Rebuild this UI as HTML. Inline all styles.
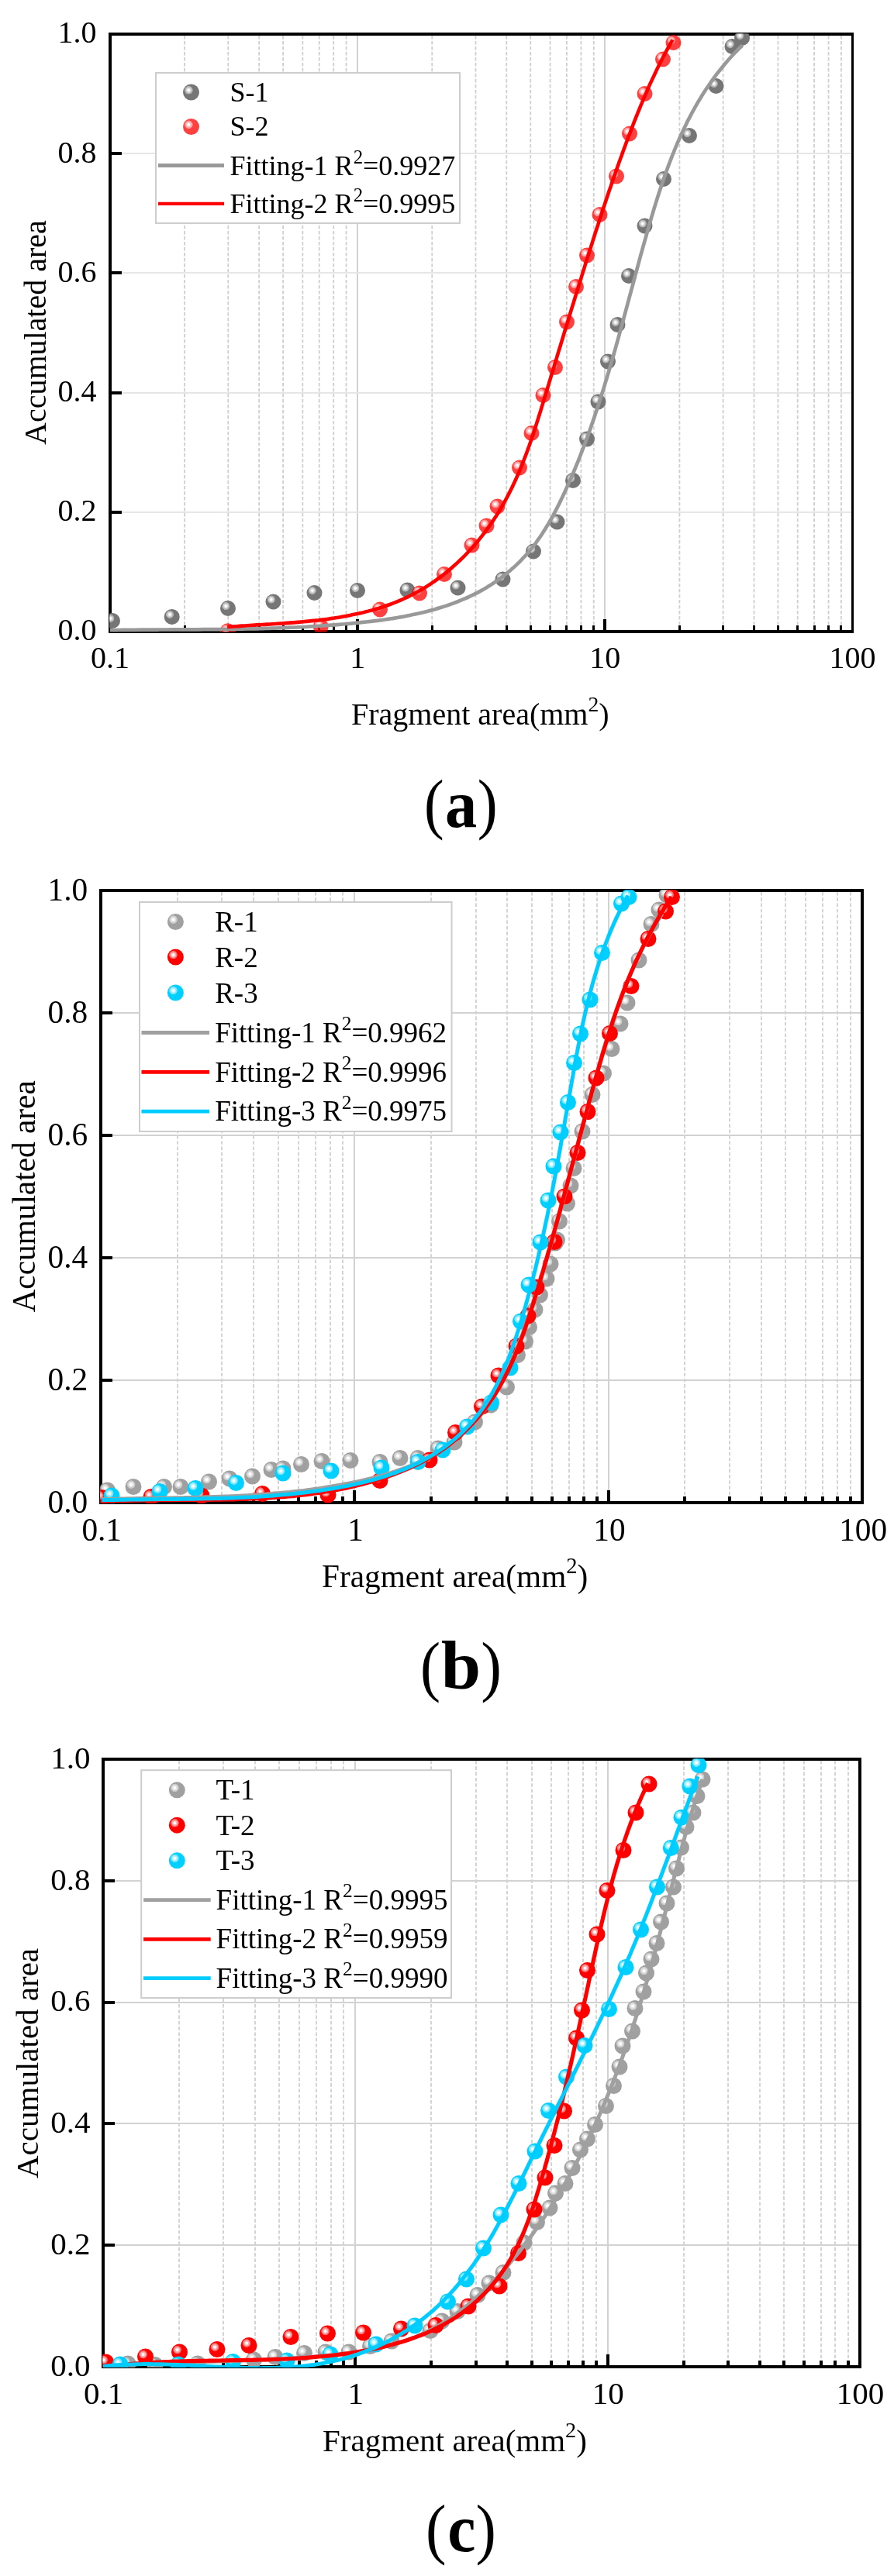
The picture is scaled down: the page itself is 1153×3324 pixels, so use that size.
<!DOCTYPE html>
<html><head><meta charset="utf-8"><title>Accumulated area vs fragment area</title>
<style>html,body{margin:0;padding:0;background:#fff}body{width:1153px;height:3324px;overflow:hidden;font-family:"Liberation Serif",serif}svg text{fill:#000}</style>
</head><body>
<svg width="1153" height="3324" viewBox="0 0 1153 3324" style="display:block;will-change:transform">
<defs>
<radialGradient id="hl" cx="0.5" cy="0.5" r="0.5"><stop offset="0" stop-color="#fff" stop-opacity="1"/><stop offset="0.28" stop-color="#fff" stop-opacity="0.97"/><stop offset="0.42" stop-color="#fff" stop-opacity="0.72"/><stop offset="0.62" stop-color="#fff" stop-opacity="0.66"/><stop offset="0.72" stop-color="#fff" stop-opacity="0.46"/><stop offset="0.93" stop-color="#fff" stop-opacity="0.4"/><stop offset="1" stop-color="#fff" stop-opacity="0.1"/></radialGradient>
<g id="gA"><circle r="10.0" fill="#767676" fill-opacity="1.0"/><circle cx="-2.7" cy="-3.0" r="5.2" fill="url(#hl)"/></g>
<g id="rA"><circle r="10.0" fill="#ff0000" fill-opacity="0.75"/><circle cx="-2.7" cy="-3.0" r="5.2" fill="url(#hl)"/></g>
<g id="gAL"><circle r="10.5" fill="#767676" fill-opacity="1.0"/><circle cx="-3.1" cy="-2.7" r="5.5" fill="url(#hl)"/></g>
<g id="rAL"><circle r="10.5" fill="#ff0000" fill-opacity="0.75"/><circle cx="-3.1" cy="-2.7" r="5.5" fill="url(#hl)"/></g>
<g id="gB"><circle r="10.5" fill="#a0a0a0" fill-opacity="1.0"/><circle cx="-2.9" cy="-2.9" r="5.5" fill="url(#hl)"/></g>
<g id="rB"><circle r="10.5" fill="#ff0000" fill-opacity="1.0"/><circle cx="-2.9" cy="-2.9" r="5.5" fill="url(#hl)"/></g>
<g id="bB"><circle r="10.5" fill="#00d0ff" fill-opacity="1.0"/><circle cx="-2.9" cy="-2.9" r="5.5" fill="url(#hl)"/></g>
</defs>
<rect width="1153" height="3324" fill="#fff"/>
<line x1="238.08" y1="46.0" x2="238.08" y2="813.0" stroke="#cfcfcf" stroke-width="1.8" stroke-dasharray="4.5,2.5" stroke-dashoffset="0"/>
<line x1="294.28" y1="46.0" x2="294.28" y2="813.0" stroke="#cfcfcf" stroke-width="1.8" stroke-dasharray="4.5,2.5" stroke-dashoffset="0"/>
<line x1="334.16" y1="46.0" x2="334.16" y2="813.0" stroke="#cfcfcf" stroke-width="1.8" stroke-dasharray="4.5,2.5" stroke-dashoffset="0"/>
<line x1="365.09" y1="46.0" x2="365.09" y2="813.0" stroke="#cfcfcf" stroke-width="1.8" stroke-dasharray="4.5,2.5" stroke-dashoffset="0"/>
<line x1="390.36" y1="46.0" x2="390.36" y2="813.0" stroke="#cfcfcf" stroke-width="1.8" stroke-dasharray="4.5,2.5" stroke-dashoffset="0"/>
<line x1="411.73" y1="46.0" x2="411.73" y2="813.0" stroke="#cfcfcf" stroke-width="1.8" stroke-dasharray="4.5,2.5" stroke-dashoffset="0"/>
<line x1="430.24" y1="46.0" x2="430.24" y2="813.0" stroke="#cfcfcf" stroke-width="1.8" stroke-dasharray="4.5,2.5" stroke-dashoffset="0"/>
<line x1="446.56" y1="46.0" x2="446.56" y2="813.0" stroke="#cfcfcf" stroke-width="1.8" stroke-dasharray="4.5,2.5" stroke-dashoffset="0"/>
<line x1="557.25" y1="46.0" x2="557.25" y2="813.0" stroke="#cfcfcf" stroke-width="1.8" stroke-dasharray="4.5,2.5" stroke-dashoffset="0"/>
<line x1="613.45" y1="46.0" x2="613.45" y2="813.0" stroke="#cfcfcf" stroke-width="1.8" stroke-dasharray="4.5,2.5" stroke-dashoffset="0"/>
<line x1="653.32" y1="46.0" x2="653.32" y2="813.0" stroke="#cfcfcf" stroke-width="1.8" stroke-dasharray="4.5,2.5" stroke-dashoffset="0"/>
<line x1="684.25" y1="46.0" x2="684.25" y2="813.0" stroke="#cfcfcf" stroke-width="1.8" stroke-dasharray="4.5,2.5" stroke-dashoffset="0"/>
<line x1="709.53" y1="46.0" x2="709.53" y2="813.0" stroke="#cfcfcf" stroke-width="1.8" stroke-dasharray="4.5,2.5" stroke-dashoffset="0"/>
<line x1="730.89" y1="46.0" x2="730.89" y2="813.0" stroke="#cfcfcf" stroke-width="1.8" stroke-dasharray="4.5,2.5" stroke-dashoffset="0"/>
<line x1="749.40" y1="46.0" x2="749.40" y2="813.0" stroke="#cfcfcf" stroke-width="1.8" stroke-dasharray="4.5,2.5" stroke-dashoffset="0"/>
<line x1="765.73" y1="46.0" x2="765.73" y2="813.0" stroke="#cfcfcf" stroke-width="1.8" stroke-dasharray="4.5,2.5" stroke-dashoffset="0"/>
<line x1="876.41" y1="46.0" x2="876.41" y2="813.0" stroke="#cfcfcf" stroke-width="1.8" stroke-dasharray="4.5,2.5" stroke-dashoffset="0"/>
<line x1="932.61" y1="46.0" x2="932.61" y2="813.0" stroke="#cfcfcf" stroke-width="1.8" stroke-dasharray="4.5,2.5" stroke-dashoffset="0"/>
<line x1="972.49" y1="46.0" x2="972.49" y2="813.0" stroke="#cfcfcf" stroke-width="1.8" stroke-dasharray="4.5,2.5" stroke-dashoffset="0"/>
<line x1="1003.42" y1="46.0" x2="1003.42" y2="813.0" stroke="#cfcfcf" stroke-width="1.8" stroke-dasharray="4.5,2.5" stroke-dashoffset="0"/>
<line x1="1028.69" y1="46.0" x2="1028.69" y2="813.0" stroke="#cfcfcf" stroke-width="1.8" stroke-dasharray="4.5,2.5" stroke-dashoffset="0"/>
<line x1="1050.06" y1="46.0" x2="1050.06" y2="813.0" stroke="#cfcfcf" stroke-width="1.8" stroke-dasharray="4.5,2.5" stroke-dashoffset="0"/>
<line x1="1068.57" y1="46.0" x2="1068.57" y2="813.0" stroke="#cfcfcf" stroke-width="1.8" stroke-dasharray="4.5,2.5" stroke-dashoffset="0"/>
<line x1="1084.90" y1="46.0" x2="1084.90" y2="813.0" stroke="#cfcfcf" stroke-width="1.8" stroke-dasharray="4.5,2.5" stroke-dashoffset="0"/>
<line x1="461.00" y1="46.0" x2="461.00" y2="813.0" stroke="#d2d2d2" stroke-width="2"/>
<line x1="780.00" y1="46.0" x2="780.00" y2="813.0" stroke="#d2d2d2" stroke-width="2"/>
<line x1="144.0" y1="661.00" x2="1098.0" y2="661.00" stroke="#e6e6e6" stroke-width="2"/>
<line x1="144.0" y1="507.00" x2="1098.0" y2="507.00" stroke="#e6e6e6" stroke-width="2"/>
<line x1="144.0" y1="352.00" x2="1098.0" y2="352.00" stroke="#e6e6e6" stroke-width="2"/>
<line x1="144.0" y1="198.00" x2="1098.0" y2="198.00" stroke="#e6e6e6" stroke-width="2"/>
<g fill="#000"><rect x="140.0" y="42.0" width="4" height="775.0"/><rect x="1098.0" y="42.0" width="3" height="775.0"/><rect x="140.0" y="42.0" width="961.0" height="4"/><rect x="140.0" y="813.0" width="961.0" height="4"/>
<rect x="144.0" y="659.00" width="13" height="4"/>
<rect x="144.0" y="505.00" width="13" height="4"/>
<rect x="144.0" y="350.00" width="13" height="4"/>
<rect x="144.0" y="196.00" width="13" height="4"/>
<rect x="459.00" y="799.0" width="4" height="14"/>
<rect x="778.00" y="799.0" width="4" height="14"/>
<rect x="237.00" y="807.0" width="3" height="6"/>
<rect x="293.00" y="807.0" width="3" height="6"/>
<rect x="333.00" y="807.0" width="3" height="6"/>
<rect x="364.00" y="807.0" width="3" height="6"/>
<rect x="389.00" y="807.0" width="3" height="6"/>
<rect x="410.00" y="807.0" width="3" height="6"/>
<rect x="429.00" y="807.0" width="3" height="6"/>
<rect x="445.00" y="807.0" width="3" height="6"/>
<rect x="556.00" y="807.0" width="3" height="6"/>
<rect x="612.00" y="807.0" width="3" height="6"/>
<rect x="652.00" y="807.0" width="3" height="6"/>
<rect x="683.00" y="807.0" width="3" height="6"/>
<rect x="708.00" y="807.0" width="3" height="6"/>
<rect x="729.00" y="807.0" width="3" height="6"/>
<rect x="748.00" y="807.0" width="3" height="6"/>
<rect x="764.00" y="807.0" width="3" height="6"/>
<rect x="875.00" y="807.0" width="3" height="6"/>
<rect x="931.00" y="807.0" width="3" height="6"/>
<rect x="971.00" y="807.0" width="3" height="6"/>
<rect x="1002.00" y="807.0" width="3" height="6"/>
<rect x="1027.00" y="807.0" width="3" height="6"/>
<rect x="1049.00" y="807.0" width="3" height="6"/>
<rect x="1067.00" y="807.0" width="3" height="6"/>
<rect x="1083.00" y="807.0" width="3" height="6"/>
</g>
<text x="124.5" y="826.3" font-family="Liberation Serif, serif" font-size="40" text-anchor="end">0.0</text>
<text x="124.5" y="672.1" font-family="Liberation Serif, serif" font-size="40" text-anchor="end">0.2</text>
<text x="124.5" y="517.9" font-family="Liberation Serif, serif" font-size="40" text-anchor="end">0.4</text>
<text x="124.5" y="363.7" font-family="Liberation Serif, serif" font-size="40" text-anchor="end">0.6</text>
<text x="124.5" y="209.5" font-family="Liberation Serif, serif" font-size="40" text-anchor="end">0.8</text>
<text x="124.5" y="55.3" font-family="Liberation Serif, serif" font-size="40" text-anchor="end">1.0</text>
<text x="142.0" y="861.5" font-family="Liberation Serif, serif" font-size="40" text-anchor="middle">0.1</text>
<text x="461.2" y="861.5" font-family="Liberation Serif, serif" font-size="40" text-anchor="middle">1</text>
<text x="780.3" y="861.5" font-family="Liberation Serif, serif" font-size="40" text-anchor="middle">10</text>
<text x="1099.5" y="861.5" font-family="Liberation Serif, serif" font-size="40" text-anchor="middle">100</text>
<text x="453" y="935" font-family="Liberation Serif, serif" font-size="40">Fragment area(mm<tspan font-size="27.6" dy="-16.8">2</tspan><tspan dy="16.8">)</tspan></text>
<text transform="translate(59,574) rotate(-90)" font-family="Liberation Serif, serif" font-size="40">Accumulated area</text>
<clipPath id="clipa"><rect x="141.2" y="43.2" width="959.1" height="772.6"/></clipPath>
<g clip-path="url(#clipa)">
<use href="#gA" x="145" y="801"/>
<use href="#gA" x="221.7" y="795.9"/>
<use href="#gA" x="294" y="785"/>
<use href="#gA" x="352.5" y="776.5"/>
<use href="#gA" x="405.5" y="765"/>
<use href="#gA" x="461" y="762"/>
<use href="#gA" x="525.5" y="761.5"/>
<use href="#gA" x="590.5" y="758.5"/>
<use href="#gA" x="648.5" y="747.5"/>
<use href="#gA" x="688" y="711.5"/>
<use href="#gA" x="718.5" y="673.5"/>
<use href="#gA" x="739" y="620"/>
<use href="#gA" x="757" y="566.5"/>
<use href="#gA" x="771.5" y="518.5"/>
<use href="#gA" x="784" y="466.5"/>
<use href="#gA" x="796.5" y="419"/>
<use href="#gA" x="811" y="356"/>
<use href="#gA" x="831.5" y="291.5"/>
<use href="#gA" x="856" y="231"/>
<use href="#gA" x="889" y="175"/>
<use href="#gA" x="923.5" y="111"/>
<use href="#gA" x="944.5" y="60"/>
<use href="#gA" x="957" y="49"/>
<use href="#rA" x="293.8" y="814.2"/>
<use href="#rA" x="413.7" y="808.3"/>
<use href="#rA" x="490" y="786.5"/>
<use href="#rA" x="541" y="765.5"/>
<use href="#rA" x="573" y="741"/>
<use href="#rA" x="608.5" y="703.5"/>
<use href="#rA" x="627.5" y="678.5"/>
<use href="#rA" x="641.5" y="653.5"/>
<use href="#rA" x="670" y="603.5"/>
<use href="#rA" x="685.5" y="559"/>
<use href="#rA" x="700.5" y="510"/>
<use href="#rA" x="716" y="474"/>
<use href="#rA" x="731" y="415.5"/>
<use href="#rA" x="743" y="370"/>
<use href="#rA" x="757" y="329.5"/>
<use href="#rA" x="773.5" y="277"/>
<use href="#rA" x="795" y="227.5"/>
<use href="#rA" x="812" y="172.5"/>
<use href="#rA" x="831.5" y="121"/>
<use href="#rA" x="855" y="76.5"/>
<use href="#rA" x="868.5" y="55"/>
<path d="M141.9,813.2 C143.3,813.2 147.3,813.1 150.1,813.1 C152.8,813.0 155.5,813.0 158.2,812.9 C160.9,812.9 163.6,812.9 166.3,812.8 C169.0,812.8 171.7,812.8 174.4,812.8 C177.1,812.7 179.8,812.7 182.5,812.7 C185.2,812.7 187.9,812.6 190.6,812.6 C193.3,812.6 196.0,812.6 198.7,812.6 C201.4,812.6 204.1,812.5 206.8,812.5 C209.5,812.5 212.2,812.5 214.9,812.5 C217.5,812.5 220.2,812.5 222.9,812.4 C225.6,812.4 228.3,812.4 231.0,812.4 C233.6,812.4 236.3,812.4 239.0,812.4 C241.7,812.3 244.4,812.3 247.0,812.3 C249.7,812.3 252.4,812.3 255.1,812.3 C257.7,812.2 260.4,812.2 263.1,812.2 C265.8,812.2 268.4,812.2 271.1,812.1 C273.8,812.1 276.5,812.1 279.1,812.1 C281.8,812.1 284.5,812.0 287.2,812.0 C289.8,812.0 292.5,811.9 295.2,811.9 C297.8,811.9 300.5,811.8 303.2,811.8 C305.9,811.7 308.5,811.7 311.2,811.6 C313.9,811.6 316.5,811.6 319.2,811.5 C321.9,811.4 324.5,811.4 327.2,811.3 C329.9,811.3 332.6,811.2 335.2,811.1 C337.9,811.1 340.6,811.0 343.2,810.9 C345.9,810.8 348.6,810.8 351.2,810.7 C353.9,810.6 356.6,810.5 359.3,810.4 C361.9,810.3 364.6,810.2 367.3,810.1 C370.0,810.0 372.6,809.9 375.3,809.7 C378.0,809.6 380.7,809.5 383.3,809.4 C386.0,809.2 388.7,809.1 391.4,809.0 C394.0,808.8 396.7,808.7 399.4,808.5 C402.1,808.4 404.8,808.2 407.4,808.0 C410.1,807.9 412.8,807.7 415.5,807.5 C418.2,807.3 420.9,807.1 423.5,806.9 C426.2,806.7 428.9,806.5 431.6,806.3 C434.3,806.1 437.0,805.9 439.7,805.7 C442.4,805.4 445.1,805.2 447.8,805.0 C450.5,804.7 453.1,804.5 455.8,804.2 C458.5,803.9 461.2,803.7 463.9,803.4 C466.6,803.1 469.4,802.8 472.1,802.5 C474.8,802.2 477.5,801.9 480.2,801.6 C482.9,801.3 485.6,800.9 488.3,800.6 C491.0,800.2 493.7,799.9 496.4,799.5 C499.1,799.1 501.8,798.7 504.5,798.3 C507.2,797.9 509.9,797.4 512.5,797.0 C515.2,796.5 517.9,796.0 520.6,795.6 C523.3,795.1 525.9,794.5 528.6,794.0 C531.3,793.5 533.9,792.9 536.6,792.3 C539.2,791.8 541.9,791.1 544.5,790.5 C547.2,789.9 549.8,789.2 552.4,788.5 C555.1,787.9 557.7,787.1 560.3,786.4 C562.9,785.7 565.5,784.9 568.1,784.1 C570.7,783.3 573.3,782.5 575.8,781.6 C578.4,780.7 580.9,779.8 583.5,778.9 C586.0,778.0 588.5,777.0 591.0,776.0 C593.5,775.0 596.0,774.0 598.5,772.9 C600.9,771.9 603.4,770.8 605.8,769.6 C608.2,768.5 610.6,767.3 613.0,766.1 C615.4,764.9 617.7,763.7 620.1,762.4 C622.4,761.1 624.7,759.8 627.0,758.4 C629.3,757.0 631.5,755.6 633.8,754.2 C636.0,752.8 638.2,751.3 640.4,749.8 C642.5,748.2 644.7,746.7 646.8,745.1 C648.9,743.5 651.0,741.9 653.0,740.2 C655.1,738.6 657.1,736.9 659.1,735.2 C661.1,733.4 663.1,731.7 665.0,729.9 C666.9,728.0 668.8,726.2 670.7,724.3 C672.5,722.5 674.4,720.6 676.1,718.6 C677.9,716.7 679.7,714.7 681.4,712.7 C683.1,710.7 684.8,708.6 686.4,706.6 C688.1,704.5 689.7,702.4 691.3,700.3 C692.8,698.1 694.4,695.9 695.9,693.8 C697.4,691.6 698.9,689.4 700.3,687.1 C701.8,684.9 703.2,682.6 704.6,680.3 C706.0,678.0 707.4,675.7 708.7,673.4 C710.0,671.1 711.4,668.7 712.7,666.4 C714.0,664.0 715.2,661.6 716.5,659.2 C717.7,656.8 719.0,654.4 720.2,652.0 C721.4,649.6 722.6,647.2 723.7,644.7 C724.9,642.3 726.1,639.9 727.2,637.4 C728.4,635.0 729.5,632.5 730.6,630.0 C731.7,627.6 732.8,625.1 733.9,622.6 C735.0,620.2 736.1,617.7 737.2,615.2 C738.2,612.8 739.3,610.3 740.3,607.8 C741.4,605.3 742.4,602.8 743.4,600.3 C744.5,597.8 745.5,595.3 746.5,592.8 C747.5,590.3 748.5,587.8 749.4,585.3 C750.4,582.8 751.4,580.3 752.3,577.8 C753.3,575.3 754.2,572.8 755.2,570.3 C756.1,567.8 757.0,565.2 758.0,562.7 C758.9,560.2 759.8,557.7 760.7,555.1 C761.6,552.6 762.5,550.1 763.3,547.5 C764.2,545.0 765.1,542.5 766.0,539.9 C766.8,537.4 767.7,534.8 768.5,532.3 C769.4,529.8 770.2,527.2 771.1,524.7 C771.9,522.1 772.7,519.6 773.5,517.0 C774.4,514.4 775.2,511.9 776.0,509.3 C776.8,506.8 777.6,504.2 778.4,501.6 C779.2,499.1 780.0,496.5 780.7,493.9 C781.5,491.4 782.3,488.8 783.1,486.2 C783.8,483.7 784.6,481.1 785.4,478.5 C786.1,475.9 786.9,473.4 787.6,470.8 C788.4,468.2 789.1,465.6 789.9,463.0 C790.6,460.5 791.4,457.9 792.1,455.3 C792.8,452.7 793.6,450.1 794.3,447.5 C795.0,444.9 795.7,442.3 796.5,439.8 C797.2,437.2 797.9,434.6 798.6,432.0 C799.3,429.4 800.0,426.8 800.7,424.2 C801.5,421.6 802.2,419.0 802.9,416.4 C803.6,413.8 804.3,411.2 805.0,408.6 C805.7,406.0 806.4,403.4 807.1,400.8 C807.8,398.2 808.5,395.6 809.2,393.0 C809.9,390.4 810.6,387.8 811.3,385.2 C812.0,382.6 812.7,380.0 813.4,377.4 C814.1,374.8 814.8,372.2 815.5,369.6 C816.2,367.0 816.9,364.4 817.6,361.8 C818.3,359.2 819.0,356.6 819.7,353.9 C820.4,351.3 821.1,348.7 821.8,346.1 C822.5,343.5 823.2,340.9 823.9,338.3 C824.6,335.7 825.3,333.1 826.0,330.5 C826.8,327.9 827.5,325.3 828.2,322.7 C828.9,320.1 829.6,317.5 830.4,314.9 C831.1,312.3 831.8,309.7 832.6,307.1 C833.3,304.5 834.0,301.9 834.8,299.3 C835.5,296.7 836.2,294.1 837.0,291.5 C837.7,288.9 838.5,286.3 839.3,283.7 C840.0,281.1 840.8,278.5 841.6,275.9 C842.3,273.3 843.1,270.7 843.9,268.1 C844.7,265.6 845.5,263.0 846.3,260.4 C847.1,257.8 847.9,255.2 848.7,252.7 C849.6,250.1 850.4,247.5 851.2,245.0 C852.1,242.4 852.9,239.9 853.8,237.3 C854.6,234.8 855.5,232.2 856.4,229.7 C857.3,227.1 858.2,224.6 859.1,222.1 C860.0,219.5 860.9,217.0 861.8,214.5 C862.8,212.0 863.7,209.5 864.7,207.0 C865.6,204.4 866.6,202.0 867.6,199.5 C868.6,197.0 869.6,194.5 870.6,192.0 C871.6,189.6 872.7,187.1 873.7,184.6 C874.8,182.2 875.9,179.7 876.9,177.3 C878.0,174.9 879.1,172.4 880.3,170.0 C881.4,167.6 882.5,165.2 883.7,162.8 C884.9,160.4 886.0,158.0 887.2,155.7 C888.4,153.3 889.7,150.9 890.9,148.6 C892.1,146.2 893.4,143.9 894.7,141.6 C896.0,139.2 897.3,136.9 898.6,134.6 C899.9,132.3 901.3,130.0 902.7,127.8 C904.0,125.5 905.4,123.2 906.8,121.0 C908.3,118.7 909.7,116.5 911.2,114.3 C912.7,112.1 914.2,109.9 915.7,107.7 C917.2,105.5 918.7,103.3 920.3,101.1 C921.9,99.0 923.5,96.8 925.1,94.7 C926.7,92.6 928.4,90.5 930.1,88.4 C931.8,86.3 933.5,84.2 935.2,82.2 C937.0,80.1 938.7,78.0 940.5,76.0 C942.3,74.0 944.2,72.0 946.0,70.0 C947.9,68.0 949.8,66.0 951.7,64.1 C953.6,62.1 956.6,59.3 957.6,58.3" fill="none" stroke="#999999" stroke-width="4.7" stroke-linejoin="round"/>
<path d="M293.2,809.0 C294.3,809.0 297.4,808.7 299.4,808.5 C301.5,808.4 303.6,808.2 305.7,808.1 C307.8,807.9 309.9,807.8 312.0,807.6 C314.2,807.5 316.3,807.4 318.4,807.2 C320.6,807.1 322.7,807.0 324.9,806.8 C327.0,806.7 329.2,806.6 331.3,806.4 C333.5,806.3 335.7,806.2 337.9,806.0 C340.1,805.9 342.2,805.8 344.4,805.6 C346.6,805.5 348.8,805.4 351.0,805.2 C353.2,805.1 355.5,805.0 357.7,804.8 C359.9,804.7 362.1,804.5 364.3,804.4 C366.5,804.2 368.8,804.1 371.0,803.9 C373.2,803.7 375.5,803.6 377.7,803.4 C379.9,803.2 382.2,803.1 384.4,802.9 C386.7,802.7 388.9,802.5 391.1,802.3 C393.4,802.1 395.6,801.9 397.9,801.6 C400.1,801.4 402.3,801.2 404.6,800.9 C406.8,800.7 409.1,800.4 411.3,800.2 C413.6,799.9 415.8,799.6 418.0,799.4 C420.3,799.1 422.5,798.8 424.8,798.4 C427.0,798.1 429.2,797.8 431.4,797.5 C433.7,797.1 435.9,796.8 438.1,796.4 C440.3,796.0 442.6,795.6 444.8,795.2 C447.0,794.8 449.2,794.4 451.4,794.0 C453.6,793.6 455.8,793.1 458.0,792.6 C460.2,792.2 462.4,791.7 464.5,791.2 C466.7,790.7 468.9,790.2 471.0,789.6 C473.2,789.1 475.4,788.5 477.5,787.9 C479.6,787.4 481.8,786.8 483.9,786.1 C486.0,785.5 488.2,784.9 490.3,784.2 C492.4,783.5 494.5,782.9 496.5,782.2 C498.6,781.4 500.7,780.7 502.8,780.0 C504.8,779.2 506.9,778.4 508.9,777.6 C511.0,776.8 513.0,776.0 515.0,775.2 C517.0,774.3 519.0,773.4 521.0,772.5 C523.0,771.6 524.9,770.7 526.9,769.8 C528.8,768.8 530.8,767.8 532.7,766.8 C534.6,765.8 536.5,764.8 538.4,763.8 C540.3,762.7 542.2,761.6 544.1,760.5 C546.0,759.4 547.8,758.3 549.6,757.2 C551.5,756.0 553.3,754.8 555.1,753.6 C556.9,752.5 558.7,751.2 560.5,750.0 C562.2,748.8 564.0,747.5 565.7,746.2 C567.5,744.9 569.2,743.6 570.9,742.3 C572.6,741.0 574.3,739.6 576.0,738.3 C577.7,736.9 579.4,735.5 581.0,734.1 C582.7,732.7 584.3,731.3 585.9,729.8 C587.5,728.4 589.1,726.9 590.7,725.4 C592.3,723.9 593.9,722.4 595.4,720.9 C597.0,719.4 598.5,717.8 600.0,716.3 C601.6,714.7 603.1,713.1 604.6,711.5 C606.0,709.9 607.5,708.3 609.0,706.7 C610.4,705.1 611.9,703.4 613.3,701.7 C614.7,700.1 616.1,698.4 617.5,696.7 C618.9,695.0 620.2,693.3 621.6,691.6 C623.0,689.9 624.3,688.1 625.6,686.4 C626.9,684.6 628.2,682.8 629.5,681.1 C630.8,679.3 632.1,677.5 633.3,675.7 C634.6,673.9 635.8,672.1 637.0,670.2 C638.2,668.4 639.4,666.5 640.6,664.7 C641.8,662.8 642.9,660.9 644.1,659.1 C645.2,657.2 646.4,655.3 647.5,653.4 C648.6,651.5 649.7,649.6 650.7,647.6 C651.8,645.7 652.9,643.8 653.9,641.8 C654.9,639.9 655.9,637.9 656.9,635.9 C657.9,634.0 658.9,632.0 659.9,630.0 C660.9,628.0 661.8,626.0 662.7,624.0 C663.7,622.0 664.6,620.0 665.5,618.0 C666.4,616.0 667.3,614.0 668.2,611.9 C669.1,609.9 669.9,607.9 670.8,605.8 C671.6,603.8 672.5,601.7 673.3,599.7 C674.1,597.6 674.9,595.5 675.7,593.5 C676.5,591.4 677.3,589.3 678.1,587.2 C678.9,585.2 679.6,583.1 680.4,581.0 C681.2,578.9 681.9,576.8 682.7,574.7 C683.4,572.6 684.1,570.5 684.9,568.4 C685.6,566.3 686.3,564.2 687.0,562.1 C687.7,559.9 688.4,557.8 689.1,555.7 C689.8,553.6 690.5,551.5 691.2,549.3 C691.9,547.2 692.5,545.1 693.2,543.0 C693.9,540.8 694.5,538.7 695.2,536.6 C695.9,534.5 696.5,532.3 697.2,530.2 C697.8,528.1 698.5,525.9 699.1,523.8 C699.8,521.7 700.4,519.6 701.1,517.4 C701.7,515.3 702.4,513.2 703.0,511.0 C703.7,508.9 704.3,506.8 705.0,504.7 C705.6,502.5 706.3,500.4 706.9,498.3 C707.5,496.2 708.2,494.1 708.8,491.9 C709.5,489.8 710.1,487.7 710.7,485.6 C711.4,483.5 712.0,481.4 712.7,479.2 C713.3,477.1 713.9,475.0 714.6,472.9 C715.2,470.8 715.9,468.7 716.5,466.6 C717.1,464.5 717.8,462.4 718.4,460.3 C719.1,458.1 719.7,456.0 720.3,453.9 C721.0,451.8 721.6,449.7 722.3,447.6 C722.9,445.5 723.5,443.4 724.2,441.3 C724.8,439.2 725.5,437.1 726.1,435.0 C726.7,432.9 727.4,430.8 728.0,428.7 C728.6,426.6 729.3,424.5 729.9,422.4 C730.6,420.3 731.2,418.2 731.8,416.1 C732.5,414.0 733.1,411.9 733.8,409.8 C734.4,407.7 735.1,405.6 735.7,403.5 C736.3,401.4 737.0,399.3 737.6,397.2 C738.3,395.1 738.9,393.0 739.6,390.9 C740.2,388.8 740.8,386.7 741.5,384.6 C742.1,382.5 742.8,380.4 743.4,378.3 C744.1,376.2 744.7,374.1 745.4,372.0 C746.0,369.9 746.7,367.8 747.3,365.8 C748.0,363.7 748.6,361.6 749.3,359.5 C749.9,357.4 750.6,355.3 751.2,353.2 C751.9,351.1 752.5,349.0 753.2,346.9 C753.8,344.8 754.5,342.7 755.1,340.6 C755.8,338.5 756.5,336.4 757.1,334.3 C757.8,332.2 758.4,330.1 759.1,328.0 C759.8,325.9 760.4,323.8 761.1,321.7 C761.7,319.6 762.4,317.5 763.1,315.4 C763.7,313.3 764.4,311.2 765.1,309.1 C765.8,307.0 766.4,304.9 767.1,302.8 C767.8,300.7 768.4,298.6 769.1,296.5 C769.8,294.4 770.5,292.3 771.2,290.2 C771.8,288.1 772.5,286.0 773.2,283.9 C773.9,281.8 774.6,279.7 775.3,277.6 C776.0,275.5 776.6,273.4 777.3,271.3 C778.0,269.2 778.7,267.1 779.4,265.0 C780.1,262.9 780.8,260.8 781.5,258.7 C782.2,256.6 782.9,254.5 783.6,252.4 C784.3,250.3 785.0,248.2 785.7,246.1 C786.5,244.0 787.2,241.9 787.9,239.9 C788.6,237.8 789.3,235.7 790.0,233.6 C790.8,231.5 791.5,229.4 792.2,227.3 C792.9,225.2 793.7,223.2 794.4,221.1 C795.1,219.0 795.9,216.9 796.6,214.8 C797.3,212.7 798.1,210.7 798.8,208.6 C799.6,206.5 800.3,204.4 801.1,202.3 C801.8,200.3 802.6,198.2 803.3,196.1 C804.1,194.0 804.8,192.0 805.6,189.9 C806.4,187.8 807.1,185.7 807.9,183.7 C808.7,181.6 809.4,179.5 810.2,177.5 C811.0,175.4 811.8,173.3 812.6,171.3 C813.4,169.2 814.1,167.2 814.9,165.1 C815.7,163.0 816.5,161.0 817.3,158.9 C818.1,156.9 818.9,154.8 819.7,152.8 C820.5,150.7 821.4,148.7 822.2,146.6 C823.0,144.6 823.8,142.5 824.7,140.5 C825.5,138.5 826.3,136.4 827.2,134.4 C828.0,132.4 828.9,130.3 829.7,128.3 C830.6,126.3 831.5,124.2 832.3,122.2 C833.2,120.2 834.1,118.2 835.0,116.2 C835.8,114.2 836.7,112.2 837.6,110.1 C838.5,108.1 839.5,106.1 840.4,104.1 C841.3,102.1 842.2,100.1 843.2,98.2 C844.1,96.2 845.0,94.2 846.0,92.2 C846.9,90.2 847.9,88.2 848.9,86.3 C849.8,84.3 850.8,82.3 851.8,80.4 C852.8,78.4 853.8,76.5 854.8,74.5 C855.8,72.5 856.9,70.6 857.9,68.7 C858.9,66.7 860.0,64.8 861.0,62.9 C862.1,60.9 863.2,59.0 864.2,57.1 C865.3,55.2 867.0,52.3 867.5,51.3" fill="none" stroke="#ff0000" stroke-width="4.6" stroke-linejoin="round"/>
</g>
<rect x="201" y="94" width="392" height="194" fill="#fff" stroke="#cdcdcd" stroke-width="2"/>
<use href="#gAL" x="246.5" y="119"/>
<text x="296.6" y="130.7" font-family="Liberation Serif, serif" font-size="36">S-1</text>
<use href="#rAL" x="246.5" y="163.5"/>
<text x="296.6" y="175.2" font-family="Liberation Serif, serif" font-size="36">S-2</text>
<line x1="204" y1="213.5" x2="289" y2="213.5" stroke="#999999" stroke-width="4.9"/>
<text x="296.6" y="226" font-family="Liberation Serif, serif" font-size="36">Fitting-1 R<tspan font-size="24.8" dy="-15.1">2</tspan><tspan dy="15.1">=0.9927</tspan></text>
<line x1="204" y1="262.9" x2="289" y2="262.9" stroke="#ff0000" stroke-width="4.2"/>
<text x="296.6" y="275.2" font-family="Liberation Serif, serif" font-size="36">Fitting-2 R<tspan font-size="24.8" dy="-15.1">2</tspan><tspan dy="15.1">=0.9995</tspan></text>
<text transform="translate(547.11,1066.48) scale(0.7704,0.8600)" font-family="Liberation Serif, serif" font-size="100">(</text>
<text transform="translate(574.07,1066.62) scale(0.8234,0.8831)" font-family="Liberation Serif, serif" font-size="100" font-weight="bold">a</text>
<text transform="translate(615.81,1066.48) scale(0.7782,0.8600)" font-family="Liberation Serif, serif" font-size="100">)</text>
<line x1="229.00" y1="1151.0" x2="229.00" y2="1937.0" stroke="#d4d4d4" stroke-width="2" stroke-dasharray="4.6,2.7" stroke-dashoffset="0"/>
<line x1="286.00" y1="1151.0" x2="286.00" y2="1937.0" stroke="#d4d4d4" stroke-width="2" stroke-dasharray="4.6,2.7" stroke-dashoffset="0"/>
<line x1="327.00" y1="1151.0" x2="327.00" y2="1937.0" stroke="#d4d4d4" stroke-width="2" stroke-dasharray="4.6,2.7" stroke-dashoffset="0"/>
<line x1="359.00" y1="1151.0" x2="359.00" y2="1937.0" stroke="#d4d4d4" stroke-width="2" stroke-dasharray="4.6,2.7" stroke-dashoffset="0"/>
<line x1="385.00" y1="1151.0" x2="385.00" y2="1937.0" stroke="#d4d4d4" stroke-width="2" stroke-dasharray="4.6,2.7" stroke-dashoffset="0"/>
<line x1="407.00" y1="1151.0" x2="407.00" y2="1937.0" stroke="#d4d4d4" stroke-width="2" stroke-dasharray="4.6,2.7" stroke-dashoffset="0"/>
<line x1="426.00" y1="1151.0" x2="426.00" y2="1937.0" stroke="#d4d4d4" stroke-width="2" stroke-dasharray="4.6,2.7" stroke-dashoffset="0"/>
<line x1="442.00" y1="1151.0" x2="442.00" y2="1937.0" stroke="#d4d4d4" stroke-width="2" stroke-dasharray="4.6,2.7" stroke-dashoffset="0"/>
<line x1="556.00" y1="1151.0" x2="556.00" y2="1937.0" stroke="#d4d4d4" stroke-width="2" stroke-dasharray="4.6,2.7" stroke-dashoffset="0"/>
<line x1="614.00" y1="1151.0" x2="614.00" y2="1937.0" stroke="#d4d4d4" stroke-width="2" stroke-dasharray="4.6,2.7" stroke-dashoffset="0"/>
<line x1="654.00" y1="1151.0" x2="654.00" y2="1937.0" stroke="#d4d4d4" stroke-width="2" stroke-dasharray="4.6,2.7" stroke-dashoffset="0"/>
<line x1="686.00" y1="1151.0" x2="686.00" y2="1937.0" stroke="#d4d4d4" stroke-width="2" stroke-dasharray="4.6,2.7" stroke-dashoffset="0"/>
<line x1="712.00" y1="1151.0" x2="712.00" y2="1937.0" stroke="#d4d4d4" stroke-width="2" stroke-dasharray="4.6,2.7" stroke-dashoffset="0"/>
<line x1="734.00" y1="1151.0" x2="734.00" y2="1937.0" stroke="#d4d4d4" stroke-width="2" stroke-dasharray="4.6,2.7" stroke-dashoffset="0"/>
<line x1="753.00" y1="1151.0" x2="753.00" y2="1937.0" stroke="#d4d4d4" stroke-width="2" stroke-dasharray="4.6,2.7" stroke-dashoffset="0"/>
<line x1="770.00" y1="1151.0" x2="770.00" y2="1937.0" stroke="#d4d4d4" stroke-width="2" stroke-dasharray="4.6,2.7" stroke-dashoffset="0"/>
<line x1="883.00" y1="1151.0" x2="883.00" y2="1937.0" stroke="#d4d4d4" stroke-width="2" stroke-dasharray="4.6,2.7" stroke-dashoffset="0"/>
<line x1="941.00" y1="1151.0" x2="941.00" y2="1937.0" stroke="#d4d4d4" stroke-width="2" stroke-dasharray="4.6,2.7" stroke-dashoffset="0"/>
<line x1="982.00" y1="1151.0" x2="982.00" y2="1937.0" stroke="#d4d4d4" stroke-width="2" stroke-dasharray="4.6,2.7" stroke-dashoffset="0"/>
<line x1="1013.00" y1="1151.0" x2="1013.00" y2="1937.0" stroke="#d4d4d4" stroke-width="2" stroke-dasharray="4.6,2.7" stroke-dashoffset="0"/>
<line x1="1039.00" y1="1151.0" x2="1039.00" y2="1937.0" stroke="#d4d4d4" stroke-width="2" stroke-dasharray="4.6,2.7" stroke-dashoffset="0"/>
<line x1="1061.00" y1="1151.0" x2="1061.00" y2="1937.0" stroke="#d4d4d4" stroke-width="2" stroke-dasharray="4.6,2.7" stroke-dashoffset="0"/>
<line x1="1080.00" y1="1151.0" x2="1080.00" y2="1937.0" stroke="#d4d4d4" stroke-width="2" stroke-dasharray="4.6,2.7" stroke-dashoffset="0"/>
<line x1="1097.00" y1="1151.0" x2="1097.00" y2="1937.0" stroke="#d4d4d4" stroke-width="2" stroke-dasharray="4.6,2.7" stroke-dashoffset="0"/>
<line x1="457.00" y1="1151.0" x2="457.00" y2="1937.0" stroke="#d2d2d2" stroke-width="2"/>
<line x1="785.00" y1="1151.0" x2="785.00" y2="1937.0" stroke="#d2d2d2" stroke-width="2"/>
<line x1="132.0" y1="1781.00" x2="1110.0" y2="1781.00" stroke="#d2d2d2" stroke-width="2"/>
<line x1="132.0" y1="1623.00" x2="1110.0" y2="1623.00" stroke="#d2d2d2" stroke-width="2"/>
<line x1="132.0" y1="1465.00" x2="1110.0" y2="1465.00" stroke="#d2d2d2" stroke-width="2"/>
<line x1="132.0" y1="1307.00" x2="1110.0" y2="1307.00" stroke="#d2d2d2" stroke-width="2"/>
<g fill="#000"><rect x="128.0" y="1147.0" width="4" height="794.0"/><rect x="1110.0" y="1147.0" width="4" height="794.0"/><rect x="128.0" y="1147.0" width="986.0" height="4"/><rect x="128.0" y="1937.0" width="986.0" height="4"/>
<rect x="132.0" y="1779.00" width="13" height="4"/>
<rect x="132.0" y="1621.00" width="13" height="4"/>
<rect x="132.0" y="1463.00" width="13" height="4"/>
<rect x="132.0" y="1305.00" width="13" height="4"/>
<rect x="455.00" y="1923.0" width="4" height="14"/>
<rect x="783.00" y="1923.0" width="4" height="14"/>
<rect x="227.00" y="1931.0" width="4" height="6"/>
<rect x="284.00" y="1931.0" width="4" height="6"/>
<rect x="325.00" y="1931.0" width="4" height="6"/>
<rect x="357.00" y="1931.0" width="4" height="6"/>
<rect x="383.00" y="1931.0" width="4" height="6"/>
<rect x="405.00" y="1931.0" width="4" height="6"/>
<rect x="424.00" y="1931.0" width="4" height="6"/>
<rect x="440.00" y="1931.0" width="4" height="6"/>
<rect x="554.00" y="1931.0" width="4" height="6"/>
<rect x="612.00" y="1931.0" width="4" height="6"/>
<rect x="652.00" y="1931.0" width="4" height="6"/>
<rect x="684.00" y="1931.0" width="4" height="6"/>
<rect x="710.00" y="1931.0" width="4" height="6"/>
<rect x="732.00" y="1931.0" width="4" height="6"/>
<rect x="751.00" y="1931.0" width="4" height="6"/>
<rect x="768.00" y="1931.0" width="4" height="6"/>
<rect x="881.00" y="1931.0" width="4" height="6"/>
<rect x="939.00" y="1931.0" width="4" height="6"/>
<rect x="980.00" y="1931.0" width="4" height="6"/>
<rect x="1011.00" y="1931.0" width="4" height="6"/>
<rect x="1037.00" y="1931.0" width="4" height="6"/>
<rect x="1059.00" y="1931.0" width="4" height="6"/>
<rect x="1078.00" y="1931.0" width="4" height="6"/>
<rect x="1095.00" y="1931.0" width="4" height="6"/>
</g>
<text x="113.2" y="1952.0" font-family="Liberation Serif, serif" font-size="41.3" text-anchor="end">0.0</text>
<text x="113.2" y="1794.0" font-family="Liberation Serif, serif" font-size="41.3" text-anchor="end">0.2</text>
<text x="113.2" y="1636.0" font-family="Liberation Serif, serif" font-size="41.3" text-anchor="end">0.4</text>
<text x="113.2" y="1478.0" font-family="Liberation Serif, serif" font-size="41.3" text-anchor="end">0.6</text>
<text x="113.2" y="1320.0" font-family="Liberation Serif, serif" font-size="41.3" text-anchor="end">0.8</text>
<text x="113.2" y="1162.0" font-family="Liberation Serif, serif" font-size="41.3" text-anchor="end">1.0</text>
<text x="131.2" y="1988" font-family="Liberation Serif, serif" font-size="41.3" text-anchor="middle">0.1</text>
<text x="458.5" y="1988" font-family="Liberation Serif, serif" font-size="41.3" text-anchor="middle">1</text>
<text x="785.9" y="1988" font-family="Liberation Serif, serif" font-size="41.3" text-anchor="middle">10</text>
<text x="1113.2" y="1988" font-family="Liberation Serif, serif" font-size="41.3" text-anchor="middle">100</text>
<text x="415" y="2047.5" font-family="Liberation Serif, serif" font-size="41.3">Fragment area(mm<tspan font-size="28.5" dy="-17.3">2</tspan><tspan dy="17.3">)</tspan></text>
<text transform="translate(45.2,1693.5) rotate(-90)" font-family="Liberation Serif, serif" font-size="41.3">Accumulated area</text>
<clipPath id="clipb"><rect x="129.2" y="1148.2" width="983.6" height="791.6"/></clipPath>
<g clip-path="url(#clipb)">
<use href="#gB" x="138.5" y="1923"/>
<use href="#gB" x="172" y="1918.5"/>
<use href="#gB" x="211.5" y="1918.5"/>
<use href="#gB" x="233" y="1918.5"/>
<use href="#gB" x="269.5" y="1912"/>
<use href="#gB" x="296" y="1908"/>
<use href="#gB" x="325.5" y="1905"/>
<use href="#gB" x="350" y="1896.5"/>
<use href="#gB" x="365" y="1895"/>
<use href="#gB" x="388.5" y="1889.5"/>
<use href="#gB" x="415" y="1885.5"/>
<use href="#gB" x="452" y="1884.5"/>
<use href="#gB" x="490" y="1886.5"/>
<use href="#gB" x="516" y="1881.5"/>
<use href="#gB" x="539" y="1881.5"/>
<use href="#gB" x="565" y="1869"/>
<use href="#gB" x="586" y="1861"/>
<use href="#gB" x="612.5" y="1835"/>
<use href="#gB" x="633" y="1813"/>
<use href="#gB" x="653.5" y="1790"/>
<use href="#gB" x="667.5" y="1748.5"/>
<use href="#gB" x="677.5" y="1731"/>
<use href="#gB" x="682.5" y="1712.5"/>
<use href="#gB" x="690" y="1690"/>
<use href="#gB" x="696.5" y="1671"/>
<use href="#gB" x="705" y="1650"/>
<use href="#gB" x="710" y="1631"/>
<use href="#gB" x="716" y="1604"/>
<use href="#gB" x="718.5" y="1600"/>
<use href="#gB" x="731.5" y="1553"/>
<use href="#gB" x="721.5" y="1576"/>
<use href="#gB" x="736" y="1530"/>
<use href="#gB" x="740" y="1507.5"/>
<use href="#gB" x="751" y="1460"/>
<use href="#gB" x="764" y="1412.5"/>
<use href="#gB" x="778.5" y="1385"/>
<use href="#gB" x="789" y="1353.5"/>
<use href="#gB" x="800" y="1321"/>
<use href="#gB" x="809" y="1294"/>
<use href="#gB" x="824" y="1239"/>
<use href="#gB" x="840" y="1192.5"/>
<use href="#gB" x="850" y="1174"/>
<use href="#gB" x="860" y="1155"/>
<use href="#rB" x="131" y="1932.5"/>
<use href="#rB" x="195" y="1931.5"/>
<use href="#rB" x="260" y="1930"/>
<use href="#rB" x="338.5" y="1927.5"/>
<use href="#rB" x="423" y="1929"/>
<use href="#rB" x="490" y="1910.5"/>
<use href="#rB" x="554" y="1884"/>
<use href="#rB" x="587.5" y="1848.5"/>
<use href="#rB" x="621.5" y="1815"/>
<use href="#rB" x="643" y="1775"/>
<use href="#rB" x="666" y="1737"/>
<use href="#rB" x="681" y="1698"/>
<use href="#rB" x="692" y="1661"/>
<use href="#rB" x="715" y="1602.5"/>
<use href="#rB" x="728" y="1544"/>
<use href="#rB" x="745" y="1487.5"/>
<use href="#rB" x="758" y="1434.5"/>
<use href="#rB" x="769" y="1391"/>
<use href="#rB" x="786.5" y="1333.5"/>
<use href="#rB" x="814" y="1272.5"/>
<use href="#rB" x="836" y="1211.5"/>
<use href="#rB" x="858.5" y="1176"/>
<use href="#rB" x="866.5" y="1157.5"/>
<use href="#bB" x="144" y="1930"/>
<use href="#bB" x="206" y="1924.5"/>
<use href="#bB" x="252" y="1920.5"/>
<use href="#bB" x="304.5" y="1913.5"/>
<use href="#bB" x="365" y="1901"/>
<use href="#bB" x="427" y="1898"/>
<use href="#bB" x="492" y="1894"/>
<use href="#bB" x="539" y="1886.5"/>
<use href="#bB" x="571" y="1871"/>
<use href="#bB" x="602.5" y="1841"/>
<use href="#bB" x="633.5" y="1810"/>
<use href="#bB" x="658" y="1765"/>
<use href="#bB" x="671.5" y="1705"/>
<use href="#bB" x="682" y="1658"/>
<use href="#bB" x="697" y="1603"/>
<use href="#bB" x="707" y="1549"/>
<use href="#bB" x="714" y="1505"/>
<use href="#bB" x="723" y="1461"/>
<use href="#bB" x="732.5" y="1422.5"/>
<use href="#bB" x="740.5" y="1371.5"/>
<use href="#bB" x="748.5" y="1334"/>
<use href="#bB" x="761" y="1290"/>
<use href="#bB" x="776.5" y="1229.5"/>
<use href="#bB" x="801.5" y="1166"/>
<use href="#bB" x="811" y="1157.5"/>
<path d="M131.1,1934.6 C132.3,1934.6 136.1,1934.5 138.6,1934.4 C141.2,1934.4 143.7,1934.3 146.2,1934.2 C148.7,1934.2 151.3,1934.1 153.8,1934.1 C156.3,1934.0 158.8,1934.0 161.4,1933.9 C163.9,1933.9 166.4,1933.8 168.9,1933.8 C171.5,1933.7 174.0,1933.7 176.5,1933.6 C179.0,1933.6 181.6,1933.5 184.1,1933.5 C186.6,1933.5 189.1,1933.4 191.7,1933.4 C194.2,1933.3 196.7,1933.3 199.2,1933.3 C201.8,1933.2 204.3,1933.2 206.8,1933.1 C209.4,1933.1 211.9,1933.1 214.4,1933.0 C216.9,1933.0 219.5,1932.9 222.0,1932.9 C224.5,1932.8 227.1,1932.8 229.6,1932.7 C232.1,1932.7 234.7,1932.6 237.2,1932.6 C239.7,1932.5 242.2,1932.5 244.8,1932.4 C247.3,1932.4 249.8,1932.3 252.4,1932.3 C254.9,1932.2 257.4,1932.1 259.9,1932.1 C262.5,1932.0 265.0,1931.9 267.5,1931.8 C270.1,1931.8 272.6,1931.7 275.1,1931.6 C277.7,1931.5 280.2,1931.4 282.7,1931.3 C285.2,1931.3 287.8,1931.2 290.3,1931.1 C292.8,1931.0 295.4,1930.8 297.9,1930.7 C300.4,1930.6 302.9,1930.5 305.5,1930.4 C308.0,1930.3 310.5,1930.1 313.0,1930.0 C315.6,1929.9 318.1,1929.7 320.6,1929.6 C323.2,1929.4 325.7,1929.3 328.2,1929.1 C330.7,1928.9 333.3,1928.8 335.8,1928.6 C338.3,1928.4 340.8,1928.2 343.4,1928.1 C345.9,1927.9 348.4,1927.7 350.9,1927.5 C353.4,1927.2 356.0,1927.0 358.5,1926.8 C361.0,1926.6 363.5,1926.3 366.1,1926.1 C368.6,1925.9 371.1,1925.6 373.6,1925.4 C376.1,1925.1 378.7,1924.8 381.2,1924.5 C383.7,1924.3 386.2,1924.0 388.7,1923.7 C391.2,1923.4 393.8,1923.1 396.3,1922.7 C398.8,1922.4 401.3,1922.1 403.8,1921.7 C406.3,1921.4 408.8,1921.0 411.4,1920.7 C413.9,1920.3 416.4,1919.9 418.9,1919.5 C421.4,1919.1 423.9,1918.7 426.4,1918.3 C428.9,1917.9 431.4,1917.5 434.0,1917.0 C436.5,1916.6 439.0,1916.2 441.5,1915.7 C444.0,1915.2 446.5,1914.7 449.0,1914.3 C451.5,1913.8 454.0,1913.3 456.5,1912.7 C459.0,1912.2 461.5,1911.7 464.0,1911.1 C466.5,1910.6 469.0,1910.0 471.5,1909.4 C474.0,1908.8 476.5,1908.2 479.0,1907.6 C481.4,1907.0 483.9,1906.4 486.4,1905.7 C488.9,1905.1 491.3,1904.4 493.8,1903.7 C496.2,1903.0 498.7,1902.2 501.1,1901.5 C503.6,1900.7 506.0,1900.0 508.4,1899.2 C510.8,1898.4 513.3,1897.6 515.7,1896.7 C518.1,1895.8 520.4,1895.0 522.8,1894.1 C525.2,1893.1 527.5,1892.2 529.9,1891.2 C532.2,1890.3 534.6,1889.3 536.9,1888.2 C539.2,1887.2 541.5,1886.1 543.8,1885.0 C546.0,1884.0 548.3,1882.8 550.5,1881.7 C552.8,1880.5 555.0,1879.3 557.2,1878.1 C559.4,1876.8 561.5,1875.6 563.7,1874.3 C565.8,1873.0 568.0,1871.6 570.1,1870.3 C572.2,1868.9 574.2,1867.5 576.3,1866.1 C578.3,1864.6 580.4,1863.2 582.4,1861.7 C584.4,1860.2 586.3,1858.7 588.3,1857.1 C590.2,1855.5 592.1,1853.9 594.0,1852.3 C595.9,1850.7 597.8,1849.0 599.6,1847.3 C601.4,1845.7 603.2,1843.9 605.0,1842.2 C606.8,1840.5 608.5,1838.7 610.2,1836.9 C611.9,1835.1 613.6,1833.2 615.2,1831.4 C616.9,1829.5 618.5,1827.6 620.1,1825.7 C621.6,1823.8 623.2,1821.8 624.7,1819.9 C626.2,1817.9 627.6,1815.9 629.1,1813.9 C630.5,1811.8 631.9,1809.8 633.3,1807.7 C634.7,1805.6 636.0,1803.5 637.4,1801.4 C638.7,1799.3 640.0,1797.1 641.2,1795.0 C642.5,1792.8 643.7,1790.6 644.9,1788.4 C646.1,1786.2 647.3,1784.0 648.5,1781.7 C649.6,1779.5 650.8,1777.2 651.9,1775.0 C653.0,1772.7 654.1,1770.4 655.1,1768.1 C656.2,1765.8 657.2,1763.5 658.3,1761.1 C659.3,1758.8 660.3,1756.5 661.3,1754.1 C662.3,1751.8 663.3,1749.4 664.2,1747.0 C665.2,1744.6 666.1,1742.3 667.0,1739.9 C668.0,1737.5 668.9,1735.1 669.8,1732.7 C670.7,1730.3 671.6,1727.8 672.5,1725.4 C673.3,1723.0 674.2,1720.6 675.0,1718.1 C675.9,1715.7 676.8,1713.3 677.6,1710.9 C678.4,1708.4 679.3,1706.0 680.1,1703.6 C680.9,1701.1 681.7,1698.7 682.5,1696.3 C683.4,1693.8 684.2,1691.4 685.0,1689.0 C685.8,1686.5 686.6,1684.1 687.4,1681.7 C688.2,1679.2 688.9,1676.8 689.7,1674.4 C690.5,1671.9 691.3,1669.5 692.0,1667.1 C692.8,1664.7 693.6,1662.2 694.3,1659.8 C695.1,1657.4 695.9,1654.9 696.6,1652.5 C697.4,1650.1 698.1,1647.6 698.8,1645.2 C699.6,1642.8 700.3,1640.3 701.1,1637.9 C701.8,1635.5 702.5,1633.0 703.2,1630.6 C704.0,1628.2 704.7,1625.7 705.4,1623.3 C706.1,1620.9 706.8,1618.4 707.5,1616.0 C708.2,1613.6 709.0,1611.1 709.7,1608.7 C710.4,1606.3 711.1,1603.8 711.8,1601.4 C712.4,1599.0 713.1,1596.5 713.8,1594.1 C714.5,1591.7 715.2,1589.3 715.9,1586.8 C716.6,1584.4 717.2,1582.0 717.9,1579.5 C718.6,1577.1 719.3,1574.6 719.9,1572.2 C720.6,1569.8 721.3,1567.3 721.9,1564.9 C722.6,1562.5 723.3,1560.0 723.9,1557.6 C724.6,1555.2 725.3,1552.7 725.9,1550.3 C726.6,1547.9 727.2,1545.4 727.9,1543.0 C728.5,1540.6 729.2,1538.1 729.8,1535.7 C730.5,1533.3 731.1,1530.8 731.8,1528.4 C732.4,1525.9 733.1,1523.5 733.7,1521.1 C734.4,1518.6 735.0,1516.2 735.7,1513.8 C736.3,1511.3 737.0,1508.9 737.6,1506.4 C738.2,1504.0 738.9,1501.6 739.5,1499.1 C740.2,1496.7 740.8,1494.3 741.4,1491.8 C742.1,1489.4 742.7,1486.9 743.4,1484.5 C744.0,1482.0 744.6,1479.6 745.3,1477.2 C745.9,1474.7 746.5,1472.3 747.2,1469.8 C747.8,1467.4 748.5,1465.0 749.1,1462.5 C749.7,1460.1 750.4,1457.6 751.0,1455.2 C751.7,1452.7 752.3,1450.3 752.9,1447.9 C753.6,1445.4 754.2,1443.0 754.9,1440.5 C755.5,1438.1 756.1,1435.6 756.8,1433.2 C757.4,1430.7 758.1,1428.3 758.7,1425.8 C759.4,1423.4 760.0,1420.9 760.7,1418.5 C761.3,1416.1 762.0,1413.6 762.6,1411.2 C763.3,1408.7 763.9,1406.3 764.6,1403.8 C765.3,1401.4 765.9,1398.9 766.6,1396.5 C767.3,1394.0 767.9,1391.6 768.6,1389.1 C769.3,1386.7 770.0,1384.2 770.6,1381.8 C771.3,1379.4 772.0,1376.9 772.7,1374.5 C773.4,1372.0 774.1,1369.6 774.8,1367.2 C775.5,1364.7 776.2,1362.3 776.9,1359.8 C777.6,1357.4 778.3,1355.0 779.1,1352.5 C779.8,1350.1 780.5,1347.7 781.3,1345.3 C782.0,1342.8 782.7,1340.4 783.5,1338.0 C784.3,1335.6 785.0,1333.2 785.8,1330.7 C786.6,1328.3 787.3,1325.9 788.1,1323.5 C788.9,1321.1 789.7,1318.7 790.5,1316.3 C791.3,1313.9 792.1,1311.5 793.0,1309.1 C793.8,1306.7 794.6,1304.3 795.5,1301.9 C796.3,1299.5 797.1,1297.2 798.0,1294.8 C798.9,1292.4 799.8,1290.0 800.6,1287.7 C801.5,1285.3 802.4,1282.9 803.3,1280.6 C804.2,1278.2 805.2,1275.9 806.1,1273.5 C807.0,1271.2 808.0,1268.8 808.9,1266.5 C809.9,1264.1 810.9,1261.8 811.9,1259.5 C812.8,1257.1 813.8,1254.8 814.9,1252.5 C815.9,1250.2 816.9,1247.9 817.9,1245.6 C819.0,1243.3 820.0,1241.0 821.1,1238.7 C822.2,1236.4 823.3,1234.1 824.4,1231.8 C825.5,1229.6 826.6,1227.3 827.7,1225.0 C828.9,1222.8 830.0,1220.5 831.2,1218.3 C832.3,1216.0 833.5,1213.8 834.7,1211.5 C835.9,1209.3 837.1,1207.1 838.4,1204.9 C839.6,1202.7 840.9,1200.4 842.1,1198.2 C843.4,1196.0 844.7,1193.8 846.0,1191.7 C847.3,1189.5 848.6,1187.3 850.0,1185.1 C851.3,1183.0 853.4,1179.7 854.1,1178.7" fill="none" stroke="#a0a0a0" stroke-width="5" stroke-linejoin="round"/>
<path d="M131.3,1937.8 C132.5,1937.7 136.3,1937.5 138.8,1937.4 C141.3,1937.2 143.8,1937.1 146.4,1937.0 C148.9,1936.9 151.4,1936.8 153.9,1936.7 C156.5,1936.6 159.0,1936.6 161.6,1936.5 C164.1,1936.4 166.6,1936.3 169.2,1936.3 C171.7,1936.2 174.3,1936.2 176.8,1936.1 C179.4,1936.1 181.9,1936.0 184.5,1936.0 C187.1,1935.9 189.6,1935.9 192.2,1935.9 C194.8,1935.8 197.3,1935.8 199.9,1935.8 C202.5,1935.7 205.1,1935.7 207.6,1935.7 C210.2,1935.7 212.8,1935.7 215.4,1935.6 C218.0,1935.6 220.5,1935.6 223.1,1935.6 C225.7,1935.6 228.3,1935.6 230.9,1935.5 C233.5,1935.5 236.1,1935.5 238.7,1935.5 C241.3,1935.5 243.9,1935.5 246.5,1935.5 C249.1,1935.5 251.7,1935.4 254.3,1935.4 C256.9,1935.4 259.5,1935.4 262.1,1935.4 C264.7,1935.3 267.3,1935.3 269.9,1935.3 C272.5,1935.3 275.1,1935.2 277.7,1935.2 C280.3,1935.2 282.9,1935.1 285.5,1935.1 C288.1,1935.0 290.7,1935.0 293.4,1934.9 C296.0,1934.9 298.6,1934.8 301.2,1934.8 C303.8,1934.7 306.4,1934.6 309.0,1934.5 C311.6,1934.5 314.2,1934.4 316.8,1934.3 C319.4,1934.2 322.1,1934.1 324.7,1934.0 C327.3,1933.9 329.9,1933.8 332.5,1933.6 C335.1,1933.5 337.7,1933.4 340.3,1933.2 C342.9,1933.1 345.5,1932.9 348.1,1932.8 C350.7,1932.6 353.3,1932.4 355.9,1932.2 C358.5,1932.1 361.1,1931.9 363.7,1931.7 C366.3,1931.5 368.9,1931.2 371.5,1931.0 C374.1,1930.8 376.7,1930.5 379.3,1930.3 C381.9,1930.0 384.5,1929.7 387.1,1929.5 C389.6,1929.2 392.2,1928.9 394.8,1928.6 C397.4,1928.2 400.0,1927.9 402.6,1927.6 C405.1,1927.2 407.7,1926.9 410.3,1926.5 C412.9,1926.1 415.4,1925.7 418.0,1925.3 C420.6,1924.9 423.1,1924.5 425.7,1924.1 C428.2,1923.6 430.8,1923.2 433.4,1922.7 C435.9,1922.2 438.5,1921.7 441.0,1921.2 C443.6,1920.7 446.1,1920.2 448.6,1919.6 C451.2,1919.0 453.7,1918.5 456.3,1917.9 C458.8,1917.3 461.3,1916.7 463.8,1916.0 C466.4,1915.4 468.9,1914.8 471.4,1914.1 C473.9,1913.4 476.4,1912.7 478.9,1912.0 C481.4,1911.3 483.9,1910.5 486.4,1909.8 C488.9,1909.0 491.4,1908.2 493.9,1907.4 C496.4,1906.6 498.8,1905.7 501.3,1904.9 C503.8,1904.0 506.2,1903.1 508.6,1902.2 C511.1,1901.3 513.5,1900.4 515.9,1899.4 C518.3,1898.4 520.7,1897.4 523.1,1896.4 C525.5,1895.4 527.9,1894.3 530.2,1893.3 C532.6,1892.2 534.9,1891.1 537.2,1890.0 C539.5,1888.8 541.8,1887.7 544.1,1886.5 C546.4,1885.3 548.7,1884.0 550.9,1882.8 C553.2,1881.5 555.4,1880.2 557.6,1878.9 C559.8,1877.6 561.9,1876.3 564.1,1874.9 C566.2,1873.5 568.4,1872.1 570.5,1870.6 C572.6,1869.2 574.6,1867.7 576.7,1866.2 C578.7,1864.7 580.8,1863.1 582.8,1861.5 C584.8,1859.9 586.7,1858.3 588.7,1856.7 C590.6,1855.0 592.5,1853.3 594.4,1851.6 C596.3,1849.9 598.2,1848.2 600.0,1846.4 C601.8,1844.7 603.6,1842.9 605.4,1841.0 C607.2,1839.2 608.9,1837.4 610.6,1835.5 C612.4,1833.6 614.1,1831.7 615.7,1829.8 C617.4,1827.8 619.0,1825.9 620.6,1823.9 C622.2,1821.9 623.8,1819.9 625.4,1817.9 C626.9,1815.8 628.4,1813.8 629.9,1811.7 C631.4,1809.6 632.9,1807.5 634.3,1805.4 C635.7,1803.3 637.1,1801.1 638.5,1799.0 C639.8,1796.8 641.2,1794.6 642.5,1792.4 C643.8,1790.2 645.1,1788.0 646.3,1785.7 C647.6,1783.5 648.8,1781.2 650.0,1779.0 C651.2,1776.7 652.4,1774.4 653.5,1772.1 C654.7,1769.8 655.8,1767.4 656.9,1765.1 C658.0,1762.8 659.1,1760.4 660.2,1758.1 C661.2,1755.7 662.2,1753.3 663.3,1750.9 C664.3,1748.5 665.3,1746.1 666.3,1743.7 C667.2,1741.3 668.2,1738.9 669.1,1736.4 C670.1,1734.0 671.0,1731.6 671.9,1729.1 C672.8,1726.7 673.7,1724.2 674.6,1721.7 C675.5,1719.3 676.3,1716.8 677.2,1714.3 C678.1,1711.8 678.9,1709.3 679.7,1706.9 C680.6,1704.4 681.4,1701.9 682.2,1699.4 C683.0,1696.9 683.8,1694.4 684.6,1691.9 C685.4,1689.4 686.2,1686.9 687.0,1684.4 C687.8,1681.9 688.5,1679.4 689.3,1676.9 C690.1,1674.4 690.8,1671.8 691.6,1669.3 C692.4,1666.8 693.1,1664.3 693.9,1661.8 C694.6,1659.3 695.4,1656.8 696.1,1654.3 C696.9,1651.8 697.6,1649.3 698.4,1646.8 C699.1,1644.3 699.8,1641.8 700.6,1639.3 C701.3,1636.8 702.0,1634.3 702.7,1631.8 C703.5,1629.3 704.2,1626.8 704.9,1624.3 C705.6,1621.8 706.3,1619.3 707.0,1616.8 C707.7,1614.4 708.5,1611.9 709.2,1609.4 C709.9,1606.9 710.6,1604.4 711.3,1601.9 C712.0,1599.4 712.7,1596.9 713.4,1594.4 C714.1,1591.9 714.7,1589.4 715.4,1586.9 C716.1,1584.4 716.8,1581.9 717.5,1579.4 C718.2,1576.9 718.9,1574.4 719.5,1572.0 C720.2,1569.5 720.9,1567.0 721.6,1564.5 C722.3,1562.0 722.9,1559.5 723.6,1557.0 C724.3,1554.5 725.0,1552.0 725.6,1549.5 C726.3,1547.0 727.0,1544.6 727.6,1542.1 C728.3,1539.6 729.0,1537.1 729.6,1534.6 C730.3,1532.1 731.0,1529.6 731.6,1527.1 C732.3,1524.6 733.0,1522.2 733.6,1519.7 C734.3,1517.2 735.0,1514.7 735.6,1512.2 C736.3,1509.7 737.0,1507.2 737.6,1504.7 C738.3,1502.2 738.9,1499.8 739.6,1497.3 C740.3,1494.8 740.9,1492.3 741.6,1489.8 C742.3,1487.3 742.9,1484.8 743.6,1482.3 C744.2,1479.9 744.9,1477.4 745.6,1474.9 C746.2,1472.4 746.9,1469.9 747.6,1467.4 C748.2,1464.9 748.9,1462.4 749.6,1460.0 C750.2,1457.5 750.9,1455.0 751.6,1452.5 C752.2,1450.0 752.9,1447.5 753.6,1445.0 C754.2,1442.5 754.9,1440.1 755.6,1437.6 C756.3,1435.1 756.9,1432.6 757.6,1430.1 C758.3,1427.6 759.0,1425.1 759.6,1422.6 C760.3,1420.2 761.0,1417.7 761.7,1415.2 C762.4,1412.7 763.1,1410.2 763.7,1407.7 C764.4,1405.2 765.1,1402.7 765.8,1400.3 C766.5,1397.8 767.2,1395.3 767.9,1392.8 C768.6,1390.3 769.3,1387.8 770.0,1385.3 C770.7,1382.8 771.4,1380.3 772.1,1377.9 C772.8,1375.4 773.5,1372.9 774.3,1370.4 C775.0,1367.9 775.7,1365.4 776.4,1362.9 C777.2,1360.4 777.9,1358.0 778.6,1355.5 C779.4,1353.0 780.1,1350.5 780.9,1348.0 C781.6,1345.6 782.4,1343.1 783.1,1340.6 C783.9,1338.1 784.7,1335.7 785.4,1333.2 C786.2,1330.7 787.0,1328.2 787.8,1325.8 C788.6,1323.3 789.4,1320.9 790.2,1318.4 C791.0,1315.9 791.8,1313.5 792.7,1311.0 C793.5,1308.6 794.3,1306.1 795.2,1303.7 C796.0,1301.2 796.9,1298.8 797.8,1296.4 C798.6,1293.9 799.5,1291.5 800.4,1289.1 C801.3,1286.6 802.2,1284.2 803.1,1281.8 C804.0,1279.4 805.0,1277.0 805.9,1274.6 C806.9,1272.2 807.8,1269.8 808.8,1267.4 C809.7,1265.0 810.7,1262.6 811.7,1260.2 C812.7,1257.8 813.7,1255.4 814.7,1253.0 C815.8,1250.7 816.8,1248.3 817.8,1245.9 C818.9,1243.6 819.9,1241.2 821.0,1238.9 C822.1,1236.5 823.2,1234.2 824.3,1231.8 C825.4,1229.5 826.5,1227.2 827.7,1224.9 C828.8,1222.5 829.9,1220.2 831.1,1217.9 C832.3,1215.6 833.4,1213.3 834.6,1211.0 C835.8,1208.7 837.0,1206.4 838.3,1204.1 C839.5,1201.8 840.7,1199.6 842.0,1197.3 C843.2,1195.0 844.5,1192.7 845.8,1190.5 C847.0,1188.2 848.3,1186.0 849.6,1183.7 C850.9,1181.5 852.3,1179.3 853.6,1177.0 C854.9,1174.8 856.3,1172.6 857.6,1170.4 C859.0,1168.1 860.4,1165.9 861.8,1163.7 C863.2,1161.5 865.3,1158.2 866.0,1157.1" fill="none" stroke="#ff0000" stroke-width="5.2" stroke-linejoin="round"/>
<path d="M131.1,1935.8 C132.4,1935.8 136.2,1935.7 138.8,1935.6 C141.3,1935.6 143.9,1935.5 146.4,1935.5 C149.0,1935.4 151.6,1935.3 154.1,1935.3 C156.7,1935.3 159.2,1935.2 161.8,1935.2 C164.3,1935.1 166.9,1935.1 169.4,1935.1 C172.0,1935.0 174.5,1935.0 177.1,1935.0 C179.6,1934.9 182.2,1934.9 184.7,1934.9 C187.3,1934.8 189.8,1934.8 192.4,1934.8 C194.9,1934.8 197.5,1934.7 200.0,1934.7 C202.6,1934.7 205.1,1934.7 207.6,1934.6 C210.2,1934.6 212.7,1934.6 215.3,1934.6 C217.8,1934.5 220.4,1934.5 222.9,1934.5 C225.4,1934.5 228.0,1934.4 230.5,1934.4 C233.1,1934.4 235.6,1934.3 238.1,1934.3 C240.7,1934.3 243.2,1934.2 245.7,1934.2 C248.3,1934.2 250.8,1934.1 253.4,1934.1 C255.9,1934.0 258.4,1934.0 261.0,1933.9 C263.5,1933.9 266.0,1933.8 268.6,1933.8 C271.1,1933.7 273.7,1933.7 276.2,1933.6 C278.7,1933.6 281.3,1933.5 283.8,1933.4 C286.3,1933.3 288.9,1933.3 291.4,1933.2 C293.9,1933.1 296.5,1933.0 299.0,1932.9 C301.5,1932.8 304.1,1932.7 306.6,1932.6 C309.2,1932.5 311.7,1932.4 314.2,1932.3 C316.8,1932.2 319.3,1932.0 321.8,1931.9 C324.4,1931.8 326.9,1931.6 329.5,1931.5 C332.0,1931.3 334.5,1931.2 337.1,1931.0 C339.6,1930.9 342.1,1930.7 344.7,1930.5 C347.2,1930.3 349.8,1930.1 352.3,1929.9 C354.8,1929.7 357.4,1929.5 359.9,1929.3 C362.5,1929.1 365.0,1928.9 367.5,1928.6 C370.1,1928.4 372.6,1928.2 375.2,1927.9 C377.7,1927.6 380.3,1927.4 382.8,1927.1 C385.4,1926.8 387.9,1926.5 390.4,1926.2 C393.0,1925.9 395.5,1925.6 398.1,1925.3 C400.6,1925.0 403.2,1924.6 405.7,1924.3 C408.3,1923.9 410.8,1923.6 413.4,1923.2 C415.9,1922.8 418.5,1922.4 421.0,1922.0 C423.6,1921.6 426.2,1921.2 428.7,1920.8 C431.3,1920.4 433.8,1919.9 436.4,1919.5 C438.9,1919.0 441.5,1918.5 444.0,1918.1 C446.6,1917.6 449.1,1917.1 451.7,1916.5 C454.2,1916.0 456.7,1915.5 459.3,1914.9 C461.8,1914.3 464.3,1913.7 466.9,1913.1 C469.4,1912.5 471.9,1911.9 474.4,1911.3 C476.9,1910.6 479.4,1910.0 481.9,1909.3 C484.4,1908.6 486.9,1907.9 489.3,1907.1 C491.8,1906.4 494.3,1905.6 496.7,1904.8 C499.2,1904.0 501.6,1903.2 504.0,1902.4 C506.5,1901.5 508.9,1900.7 511.3,1899.8 C513.7,1898.9 516.1,1898.0 518.5,1897.0 C520.8,1896.1 523.2,1895.1 525.5,1894.1 C527.9,1893.1 530.2,1892.0 532.5,1891.0 C534.8,1889.9 537.1,1888.8 539.4,1887.7 C541.6,1886.5 543.9,1885.4 546.1,1884.2 C548.4,1883.0 550.6,1881.7 552.8,1880.5 C555.0,1879.2 557.1,1877.9 559.3,1876.6 C561.4,1875.2 563.5,1873.9 565.6,1872.5 C567.7,1871.1 569.8,1869.7 571.9,1868.2 C573.9,1866.7 575.9,1865.2 577.9,1863.7 C579.9,1862.2 581.9,1860.6 583.8,1859.0 C585.8,1857.5 587.7,1855.8 589.5,1854.2 C591.4,1852.5 593.3,1850.8 595.1,1849.1 C596.9,1847.4 598.7,1845.6 600.4,1843.8 C602.2,1842.0 603.9,1840.2 605.6,1838.4 C607.2,1836.5 608.9,1834.7 610.5,1832.8 C612.1,1830.9 613.7,1828.9 615.3,1827.0 C616.8,1825.0 618.3,1823.0 619.8,1821.0 C621.3,1819.0 622.7,1816.9 624.2,1814.9 C625.6,1812.8 627.0,1810.7 628.3,1808.6 C629.7,1806.5 631.0,1804.4 632.3,1802.2 C633.6,1800.0 634.8,1797.9 636.0,1795.7 C637.3,1793.5 638.5,1791.2 639.6,1789.0 C640.8,1786.7 641.9,1784.5 643.1,1782.2 C644.2,1779.9 645.3,1777.6 646.3,1775.3 C647.4,1773.0 648.5,1770.7 649.5,1768.3 C650.5,1766.0 651.5,1763.6 652.5,1761.3 C653.5,1758.9 654.4,1756.5 655.3,1754.1 C656.3,1751.7 657.2,1749.3 658.1,1746.9 C659.0,1744.5 659.9,1742.1 660.7,1739.7 C661.6,1737.2 662.5,1734.8 663.3,1732.3 C664.1,1729.9 664.9,1727.4 665.7,1725.0 C666.5,1722.5 667.3,1720.1 668.1,1717.6 C668.9,1715.1 669.7,1712.6 670.4,1710.2 C671.2,1707.7 671.9,1705.2 672.7,1702.7 C673.4,1700.3 674.1,1697.8 674.9,1695.3 C675.6,1692.8 676.3,1690.4 677.0,1687.9 C677.7,1685.4 678.4,1682.9 679.1,1680.4 C679.8,1678.0 680.5,1675.5 681.1,1673.0 C681.8,1670.5 682.5,1668.0 683.2,1665.6 C683.8,1663.1 684.5,1660.6 685.1,1658.1 C685.8,1655.6 686.4,1653.2 687.0,1650.7 C687.7,1648.2 688.3,1645.7 688.9,1643.2 C689.6,1640.8 690.2,1638.3 690.8,1635.8 C691.4,1633.3 692.0,1630.8 692.6,1628.3 C693.2,1625.9 693.8,1623.4 694.4,1620.9 C694.9,1618.4 695.5,1615.9 696.1,1613.4 C696.7,1611.0 697.2,1608.5 697.8,1606.0 C698.4,1603.5 698.9,1601.0 699.5,1598.5 C700.0,1596.0 700.6,1593.6 701.1,1591.1 C701.7,1588.6 702.2,1586.1 702.7,1583.6 C703.3,1581.1 703.8,1578.6 704.3,1576.1 C704.8,1573.7 705.4,1571.2 705.9,1568.7 C706.4,1566.2 706.9,1563.7 707.4,1561.2 C707.9,1558.7 708.4,1556.2 708.9,1553.7 C709.4,1551.2 709.9,1548.7 710.4,1546.2 C710.9,1543.7 711.4,1541.3 711.9,1538.8 C712.4,1536.3 712.8,1533.8 713.3,1531.3 C713.8,1528.8 714.3,1526.3 714.8,1523.8 C715.2,1521.3 715.7,1518.8 716.2,1516.3 C716.6,1513.8 717.1,1511.3 717.6,1508.8 C718.0,1506.3 718.5,1503.8 718.9,1501.3 C719.4,1498.8 719.8,1496.3 720.3,1493.8 C720.8,1491.3 721.2,1488.8 721.7,1486.3 C722.1,1483.8 722.6,1481.3 723.0,1478.8 C723.4,1476.3 723.9,1473.7 724.3,1471.2 C724.8,1468.7 725.2,1466.2 725.7,1463.7 C726.1,1461.2 726.5,1458.7 727.0,1456.2 C727.4,1453.7 727.9,1451.2 728.3,1448.7 C728.7,1446.1 729.2,1443.6 729.6,1441.1 C730.0,1438.6 730.5,1436.1 730.9,1433.6 C731.3,1431.1 731.8,1428.5 732.2,1426.0 C732.6,1423.5 733.1,1421.0 733.5,1418.5 C733.9,1416.0 734.4,1413.4 734.8,1410.9 C735.3,1408.4 735.7,1405.9 736.1,1403.4 C736.6,1400.8 737.0,1398.3 737.4,1395.8 C737.9,1393.3 738.3,1390.7 738.8,1388.2 C739.2,1385.7 739.7,1383.2 740.1,1380.6 C740.6,1378.1 741.0,1375.6 741.5,1373.1 C741.9,1370.6 742.4,1368.0 742.8,1365.5 C743.3,1363.0 743.8,1360.5 744.3,1358.0 C744.7,1355.4 745.2,1352.9 745.7,1350.4 C746.2,1347.9 746.7,1345.4 747.2,1342.9 C747.7,1340.4 748.2,1337.8 748.7,1335.3 C749.2,1332.8 749.7,1330.3 750.2,1327.8 C750.8,1325.3 751.3,1322.8 751.8,1320.3 C752.4,1317.8 752.9,1315.3 753.5,1312.8 C754.0,1310.3 754.6,1307.8 755.2,1305.4 C755.8,1302.9 756.3,1300.4 756.9,1297.9 C757.5,1295.4 758.1,1292.9 758.8,1290.5 C759.4,1288.0 760.0,1285.5 760.6,1283.1 C761.3,1280.6 761.9,1278.1 762.6,1275.7 C763.2,1273.2 763.9,1270.8 764.6,1268.3 C765.3,1265.9 766.0,1263.4 766.7,1261.0 C767.4,1258.5 768.1,1256.1 768.9,1253.7 C769.6,1251.3 770.4,1248.8 771.2,1246.4 C771.9,1244.0 772.7,1241.6 773.5,1239.2 C774.3,1236.8 775.1,1234.4 775.9,1232.0 C776.8,1229.6 777.6,1227.2 778.5,1224.8 C779.3,1222.4 780.2,1220.1 781.1,1217.7 C782.0,1215.3 782.9,1213.0 783.9,1210.6 C784.8,1208.2 785.7,1205.9 786.7,1203.6 C787.7,1201.2 788.7,1198.9 789.7,1196.5 C790.7,1194.2 791.7,1191.9 792.7,1189.6 C793.8,1187.3 794.8,1185.0 795.9,1182.7 C797.0,1180.4 798.1,1178.1 799.2,1175.8 C800.4,1173.5 801.5,1171.3 802.7,1169.0 C803.9,1166.7 805.0,1164.5 806.3,1162.2 C807.5,1160.0 809.3,1156.7 810.0,1155.5" fill="none" stroke="#00ccff" stroke-width="5" stroke-linejoin="round"/>
</g>
<rect x="180" y="1164" width="402.5" height="296" fill="#fff" stroke="#cdcdcd" stroke-width="2"/>
<use href="#gB" x="226.4" y="1189.5"/>
<text x="277.2" y="1202" font-family="Liberation Serif, serif" font-size="37">R-1</text>
<use href="#rB" x="226.4" y="1235"/>
<text x="277.2" y="1248" font-family="Liberation Serif, serif" font-size="37">R-2</text>
<use href="#bB" x="226.4" y="1281"/>
<text x="277.2" y="1294.2" font-family="Liberation Serif, serif" font-size="37">R-3</text>
<line x1="182.5" y1="1332.5" x2="270" y2="1332.5" stroke="#a0a0a0" stroke-width="4.8"/>
<text x="277.2" y="1344.8" font-family="Liberation Serif, serif" font-size="37">Fitting-1 R<tspan font-size="25.5" dy="-15.5">2</tspan><tspan dy="15.5">=0.9962</tspan></text>
<line x1="182.5" y1="1383.3" x2="270" y2="1383.3" stroke="#ff0000" stroke-width="4.8"/>
<text x="277.2" y="1395.7" font-family="Liberation Serif, serif" font-size="37">Fitting-2 R<tspan font-size="25.5" dy="-15.5">2</tspan><tspan dy="15.5">=0.9996</tspan></text>
<line x1="182.5" y1="1434.2" x2="270" y2="1434.2" stroke="#00ccff" stroke-width="4.8"/>
<text x="277.2" y="1446.3" font-family="Liberation Serif, serif" font-size="37">Fitting-3 R<tspan font-size="25.5" dy="-15.5">2</tspan><tspan dy="15.5">=0.9975</tspan></text>
<text transform="translate(542.06,2178.64) scale(0.7821,0.8622)" font-family="Liberation Serif, serif" font-size="100">(</text>
<text transform="translate(568.80,2178.81) scale(0.9245,0.8935)" font-family="Liberation Serif, serif" font-size="100" font-weight="bold">b</text>
<text transform="translate(620.14,2178.64) scale(0.8016,0.8622)" font-family="Liberation Serif, serif" font-size="100">)</text>
<line x1="231.00" y1="2272.0" x2="231.00" y2="3052.0" stroke="#d4d4d4" stroke-width="2" stroke-dasharray="4.6,2.7" stroke-dashoffset="0"/>
<line x1="288.00" y1="2272.0" x2="288.00" y2="3052.0" stroke="#d4d4d4" stroke-width="2" stroke-dasharray="4.6,2.7" stroke-dashoffset="0"/>
<line x1="329.00" y1="2272.0" x2="329.00" y2="3052.0" stroke="#d4d4d4" stroke-width="2" stroke-dasharray="4.6,2.7" stroke-dashoffset="0"/>
<line x1="360.00" y1="2272.0" x2="360.00" y2="3052.0" stroke="#d4d4d4" stroke-width="2" stroke-dasharray="4.6,2.7" stroke-dashoffset="0"/>
<line x1="386.00" y1="2272.0" x2="386.00" y2="3052.0" stroke="#d4d4d4" stroke-width="2" stroke-dasharray="4.6,2.7" stroke-dashoffset="0"/>
<line x1="408.00" y1="2272.0" x2="408.00" y2="3052.0" stroke="#d4d4d4" stroke-width="2" stroke-dasharray="4.6,2.7" stroke-dashoffset="0"/>
<line x1="427.00" y1="2272.0" x2="427.00" y2="3052.0" stroke="#d4d4d4" stroke-width="2" stroke-dasharray="4.6,2.7" stroke-dashoffset="0"/>
<line x1="443.00" y1="2272.0" x2="443.00" y2="3052.0" stroke="#d4d4d4" stroke-width="2" stroke-dasharray="4.6,2.7" stroke-dashoffset="0"/>
<line x1="556.00" y1="2272.0" x2="556.00" y2="3052.0" stroke="#d4d4d4" stroke-width="2" stroke-dasharray="4.6,2.7" stroke-dashoffset="0"/>
<line x1="614.00" y1="2272.0" x2="614.00" y2="3052.0" stroke="#d4d4d4" stroke-width="2" stroke-dasharray="4.6,2.7" stroke-dashoffset="0"/>
<line x1="654.00" y1="2272.0" x2="654.00" y2="3052.0" stroke="#d4d4d4" stroke-width="2" stroke-dasharray="4.6,2.7" stroke-dashoffset="0"/>
<line x1="686.00" y1="2272.0" x2="686.00" y2="3052.0" stroke="#d4d4d4" stroke-width="2" stroke-dasharray="4.6,2.7" stroke-dashoffset="0"/>
<line x1="711.00" y1="2272.0" x2="711.00" y2="3052.0" stroke="#d4d4d4" stroke-width="2" stroke-dasharray="4.6,2.7" stroke-dashoffset="0"/>
<line x1="733.00" y1="2272.0" x2="733.00" y2="3052.0" stroke="#d4d4d4" stroke-width="2" stroke-dasharray="4.6,2.7" stroke-dashoffset="0"/>
<line x1="752.00" y1="2272.0" x2="752.00" y2="3052.0" stroke="#d4d4d4" stroke-width="2" stroke-dasharray="4.6,2.7" stroke-dashoffset="0"/>
<line x1="769.00" y1="2272.0" x2="769.00" y2="3052.0" stroke="#d4d4d4" stroke-width="2" stroke-dasharray="4.6,2.7" stroke-dashoffset="0"/>
<line x1="882.00" y1="2272.0" x2="882.00" y2="3052.0" stroke="#d4d4d4" stroke-width="2" stroke-dasharray="4.6,2.7" stroke-dashoffset="0"/>
<line x1="939.00" y1="2272.0" x2="939.00" y2="3052.0" stroke="#d4d4d4" stroke-width="2" stroke-dasharray="4.6,2.7" stroke-dashoffset="0"/>
<line x1="980.00" y1="2272.0" x2="980.00" y2="3052.0" stroke="#d4d4d4" stroke-width="2" stroke-dasharray="4.6,2.7" stroke-dashoffset="0"/>
<line x1="1011.00" y1="2272.0" x2="1011.00" y2="3052.0" stroke="#d4d4d4" stroke-width="2" stroke-dasharray="4.6,2.7" stroke-dashoffset="0"/>
<line x1="1037.00" y1="2272.0" x2="1037.00" y2="3052.0" stroke="#d4d4d4" stroke-width="2" stroke-dasharray="4.6,2.7" stroke-dashoffset="0"/>
<line x1="1059.00" y1="2272.0" x2="1059.00" y2="3052.0" stroke="#d4d4d4" stroke-width="2" stroke-dasharray="4.6,2.7" stroke-dashoffset="0"/>
<line x1="1077.00" y1="2272.0" x2="1077.00" y2="3052.0" stroke="#d4d4d4" stroke-width="2" stroke-dasharray="4.6,2.7" stroke-dashoffset="0"/>
<line x1="1094.00" y1="2272.0" x2="1094.00" y2="3052.0" stroke="#d4d4d4" stroke-width="2" stroke-dasharray="4.6,2.7" stroke-dashoffset="0"/>
<line x1="458.00" y1="2272.0" x2="458.00" y2="3052.0" stroke="#d2d2d2" stroke-width="2"/>
<line x1="784.00" y1="2272.0" x2="784.00" y2="3052.0" stroke="#d2d2d2" stroke-width="2"/>
<line x1="135.0" y1="2897.00" x2="1107.0" y2="2897.00" stroke="#d2d2d2" stroke-width="2"/>
<line x1="135.0" y1="2740.00" x2="1107.0" y2="2740.00" stroke="#d2d2d2" stroke-width="2"/>
<line x1="135.0" y1="2584.00" x2="1107.0" y2="2584.00" stroke="#d2d2d2" stroke-width="2"/>
<line x1="135.0" y1="2427.00" x2="1107.0" y2="2427.00" stroke="#d2d2d2" stroke-width="2"/>
<g fill="#000"><rect x="131.0" y="2268.0" width="4" height="788.0"/><rect x="1107.0" y="2268.0" width="4" height="788.0"/><rect x="131.0" y="2268.0" width="980.0" height="4"/><rect x="131.0" y="3052.0" width="980.0" height="4"/>
<rect x="135.0" y="2895.00" width="13" height="4"/>
<rect x="135.0" y="2738.00" width="13" height="4"/>
<rect x="135.0" y="2582.00" width="13" height="4"/>
<rect x="135.0" y="2425.00" width="13" height="4"/>
<rect x="456.00" y="3038.0" width="4" height="14"/>
<rect x="782.00" y="3038.0" width="4" height="14"/>
<rect x="229.00" y="3046.0" width="4" height="6"/>
<rect x="286.00" y="3046.0" width="4" height="6"/>
<rect x="327.00" y="3046.0" width="4" height="6"/>
<rect x="358.00" y="3046.0" width="4" height="6"/>
<rect x="384.00" y="3046.0" width="4" height="6"/>
<rect x="406.00" y="3046.0" width="4" height="6"/>
<rect x="425.00" y="3046.0" width="4" height="6"/>
<rect x="441.00" y="3046.0" width="4" height="6"/>
<rect x="554.00" y="3046.0" width="4" height="6"/>
<rect x="612.00" y="3046.0" width="4" height="6"/>
<rect x="652.00" y="3046.0" width="4" height="6"/>
<rect x="684.00" y="3046.0" width="4" height="6"/>
<rect x="709.00" y="3046.0" width="4" height="6"/>
<rect x="731.00" y="3046.0" width="4" height="6"/>
<rect x="750.00" y="3046.0" width="4" height="6"/>
<rect x="767.00" y="3046.0" width="4" height="6"/>
<rect x="880.00" y="3046.0" width="4" height="6"/>
<rect x="937.00" y="3046.0" width="4" height="6"/>
<rect x="978.00" y="3046.0" width="4" height="6"/>
<rect x="1009.00" y="3046.0" width="4" height="6"/>
<rect x="1035.00" y="3046.0" width="4" height="6"/>
<rect x="1057.00" y="3046.0" width="4" height="6"/>
<rect x="1075.00" y="3046.0" width="4" height="6"/>
<rect x="1092.00" y="3046.0" width="4" height="6"/>
</g>
<text x="116.4" y="3065.7" font-family="Liberation Serif, serif" font-size="41" text-anchor="end">0.0</text>
<text x="116.4" y="2908.9" font-family="Liberation Serif, serif" font-size="41" text-anchor="end">0.2</text>
<text x="116.4" y="2752.1" font-family="Liberation Serif, serif" font-size="41" text-anchor="end">0.4</text>
<text x="116.4" y="2595.3" font-family="Liberation Serif, serif" font-size="41" text-anchor="end">0.6</text>
<text x="116.4" y="2438.5" font-family="Liberation Serif, serif" font-size="41" text-anchor="end">0.8</text>
<text x="116.4" y="2281.7" font-family="Liberation Serif, serif" font-size="41" text-anchor="end">1.0</text>
<text x="133.5" y="3102.3" font-family="Liberation Serif, serif" font-size="41" text-anchor="middle">0.1</text>
<text x="458.8" y="3102.3" font-family="Liberation Serif, serif" font-size="41" text-anchor="middle">1</text>
<text x="784.2" y="3102.3" font-family="Liberation Serif, serif" font-size="41" text-anchor="middle">10</text>
<text x="1109.5" y="3102.3" font-family="Liberation Serif, serif" font-size="41" text-anchor="middle">100</text>
<text x="416" y="3162.5" font-family="Liberation Serif, serif" font-size="41">Fragment area(mm<tspan font-size="28.3" dy="-17.2">2</tspan><tspan dy="17.2">)</tspan></text>
<text transform="translate(48.6,2811) rotate(-90)" font-family="Liberation Serif, serif" font-size="41">Accumulated area</text>
<clipPath id="clipc"><rect x="132.2" y="2269.2" width="977.6" height="785.6"/></clipPath>
<g clip-path="url(#clipc)">
<use href="#gB" x="165" y="3050"/>
<use href="#gB" x="200" y="3051.5"/>
<use href="#gB" x="255" y="3050"/>
<use href="#gB" x="327.5" y="3045"/>
<use href="#gB" x="355" y="3041.5"/>
<use href="#gB" x="392.5" y="3036.5"/>
<use href="#gB" x="420" y="3035"/>
<use href="#gB" x="450" y="3035"/>
<use href="#gB" x="477.5" y="3027.5"/>
<use href="#gB" x="505" y="3021"/>
<use href="#gB" x="555" y="3007.5"/>
<use href="#gB" x="570" y="2995"/>
<use href="#gB" x="590" y="2982.5"/>
<use href="#gB" x="616" y="2961.5"/>
<use href="#gB" x="631" y="2946"/>
<use href="#gB" x="649" y="2932.5"/>
<use href="#gB" x="676" y="2894"/>
<use href="#gB" x="692.5" y="2867.5"/>
<use href="#gB" x="709" y="2849"/>
<use href="#gB" x="716.5" y="2830"/>
<use href="#gB" x="729" y="2817.5"/>
<use href="#gB" x="738" y="2797.5"/>
<use href="#gB" x="748.5" y="2774"/>
<use href="#gB" x="757.5" y="2760"/>
<use href="#gB" x="767.5" y="2741.5"/>
<use href="#gB" x="781.5" y="2717.5"/>
<use href="#gB" x="791.5" y="2691.5"/>
<use href="#gB" x="799" y="2667"/>
<use href="#gB" x="803" y="2640"/>
<use href="#gB" x="815.5" y="2621"/>
<use href="#gB" x="819" y="2591.5"/>
<use href="#gB" x="830" y="2570"/>
<use href="#gB" x="833.5" y="2546"/>
<use href="#gB" x="840" y="2528"/>
<use href="#gB" x="847" y="2507.5"/>
<use href="#gB" x="852.5" y="2480"/>
<use href="#gB" x="860" y="2456"/>
<use href="#gB" x="868.5" y="2435"/>
<use href="#gB" x="872.5" y="2411"/>
<use href="#gB" x="878.5" y="2384"/>
<use href="#gB" x="885" y="2357.5"/>
<use href="#gB" x="894" y="2339"/>
<use href="#gB" x="899" y="2317.5"/>
<use href="#gB" x="906" y="2296"/>
<use href="#rB" x="136.5" y="3048"/>
<use href="#rB" x="187.5" y="3041"/>
<use href="#rB" x="231.5" y="3035"/>
<use href="#rB" x="280" y="3031.5"/>
<use href="#rB" x="321" y="3026.5"/>
<use href="#rB" x="375" y="3015.5"/>
<use href="#rB" x="422.5" y="3011"/>
<use href="#rB" x="468.5" y="3010"/>
<use href="#rB" x="517.5" y="3005"/>
<use href="#rB" x="562" y="3000.5"/>
<use href="#rB" x="604" y="2976"/>
<use href="#rB" x="644" y="2950"/>
<use href="#rB" x="668.5" y="2907.5"/>
<use href="#rB" x="689" y="2851"/>
<use href="#rB" x="703" y="2810"/>
<use href="#rB" x="715" y="2768.5"/>
<use href="#rB" x="727.5" y="2724"/>
<use href="#rB" x="743.5" y="2630"/>
<use href="#rB" x="750.5" y="2594"/>
<use href="#rB" x="757.5" y="2542.5"/>
<use href="#rB" x="770" y="2496"/>
<use href="#rB" x="783" y="2439.5"/>
<use href="#rB" x="804" y="2387.5"/>
<use href="#rB" x="820" y="2339"/>
<use href="#rB" x="837" y="2302"/>
<use href="#bB" x="155" y="3051"/>
<use href="#bB" x="230" y="3051"/>
<use href="#bB" x="300.5" y="3047.5"/>
<use href="#bB" x="370" y="3046"/>
<use href="#bB" x="426" y="3038"/>
<use href="#bB" x="485" y="3025"/>
<use href="#bB" x="535" y="3001"/>
<use href="#bB" x="577.5" y="2970"/>
<use href="#bB" x="601.5" y="2941"/>
<use href="#bB" x="623.5" y="2901"/>
<use href="#bB" x="646" y="2858"/>
<use href="#bB" x="669" y="2817.5"/>
<use href="#bB" x="690" y="2776"/>
<use href="#bB" x="707.5" y="2723.5"/>
<use href="#bB" x="730.5" y="2680"/>
<use href="#bB" x="754" y="2639.5"/>
<use href="#bB" x="785.5" y="2592.5"/>
<use href="#bB" x="807" y="2538.5"/>
<use href="#bB" x="826.5" y="2490"/>
<use href="#bB" x="847.5" y="2435"/>
<use href="#bB" x="865.3" y="2384.5"/>
<use href="#bB" x="879" y="2345.2"/>
<use href="#bB" x="889.9" y="2305"/>
<use href="#bB" x="901" y="2277.5"/>
<path d="M132.8,3053.7 C134.2,3053.6 138.1,3053.3 140.7,3053.1 C143.4,3052.9 146.0,3052.7 148.6,3052.5 C151.3,3052.3 153.9,3052.1 156.5,3051.9 C159.1,3051.8 161.7,3051.6 164.4,3051.4 C167.0,3051.3 169.6,3051.1 172.2,3051.0 C174.8,3050.8 177.4,3050.7 180.0,3050.5 C182.6,3050.4 185.2,3050.3 187.8,3050.1 C190.4,3050.0 193.0,3049.9 195.6,3049.8 C198.2,3049.7 200.8,3049.6 203.4,3049.4 C206.0,3049.3 208.6,3049.2 211.2,3049.1 C213.8,3049.0 216.4,3048.9 219.0,3048.9 C221.6,3048.8 224.2,3048.7 226.8,3048.6 C229.4,3048.5 232.0,3048.4 234.5,3048.3 C237.1,3048.3 239.7,3048.2 242.3,3048.1 C244.9,3048.0 247.5,3047.9 250.0,3047.9 C252.6,3047.8 255.2,3047.7 257.8,3047.6 C260.4,3047.6 263.0,3047.5 265.5,3047.4 C268.1,3047.4 270.7,3047.3 273.3,3047.2 C275.9,3047.2 278.5,3047.1 281.0,3047.0 C283.6,3046.9 286.2,3046.9 288.8,3046.8 C291.4,3046.7 293.9,3046.6 296.5,3046.6 C299.1,3046.5 301.7,3046.4 304.3,3046.3 C306.8,3046.3 309.4,3046.2 312.0,3046.1 C314.6,3046.0 317.2,3045.9 319.8,3045.8 C322.3,3045.7 324.9,3045.6 327.5,3045.5 C330.1,3045.4 332.7,3045.3 335.3,3045.2 C337.9,3045.1 340.4,3045.0 343.0,3044.9 C345.6,3044.8 348.2,3044.7 350.8,3044.6 C353.4,3044.4 356.0,3044.3 358.6,3044.2 C361.2,3044.0 363.8,3043.9 366.4,3043.8 C369.0,3043.6 371.6,3043.5 374.2,3043.3 C376.8,3043.2 379.4,3043.0 382.0,3042.8 C384.6,3042.7 387.2,3042.5 389.8,3042.3 C392.4,3042.1 395.0,3041.9 397.6,3041.7 C400.2,3041.5 402.8,3041.3 405.4,3041.1 C408.0,3040.9 410.7,3040.7 413.3,3040.4 C415.9,3040.2 418.5,3039.9 421.1,3039.7 C423.8,3039.4 426.4,3039.2 429.0,3038.9 C431.7,3038.6 434.3,3038.4 436.9,3038.1 C439.5,3037.8 442.2,3037.4 444.8,3037.1 C447.4,3036.8 450.0,3036.5 452.7,3036.1 C455.3,3035.7 457.9,3035.4 460.5,3035.0 C463.1,3034.6 465.7,3034.2 468.3,3033.7 C470.9,3033.3 473.5,3032.8 476.1,3032.3 C478.7,3031.9 481.3,3031.4 483.8,3030.8 C486.4,3030.3 489.0,3029.8 491.5,3029.2 C494.1,3028.6 496.6,3028.0 499.1,3027.4 C501.7,3026.7 504.2,3026.1 506.7,3025.4 C509.2,3024.7 511.7,3024.0 514.1,3023.2 C516.6,3022.4 519.1,3021.6 521.5,3020.8 C524.0,3020.0 526.4,3019.1 528.8,3018.2 C531.2,3017.4 533.6,3016.4 536.0,3015.5 C538.3,3014.5 540.7,3013.5 543.0,3012.4 C545.4,3011.4 547.7,3010.3 550.0,3009.2 C552.3,3008.1 554.6,3006.9 556.8,3005.7 C559.1,3004.5 561.3,3003.3 563.5,3002.0 C565.8,3000.7 568.0,2999.4 570.1,2998.1 C572.3,2996.8 574.5,2995.4 576.6,2994.0 C578.8,2992.6 580.9,2991.2 583.0,2989.7 C585.1,2988.2 587.2,2986.8 589.3,2985.2 C591.4,2983.7 593.4,2982.2 595.5,2980.6 C597.5,2979.0 599.5,2977.4 601.5,2975.8 C603.5,2974.2 605.5,2972.5 607.5,2970.8 C609.5,2969.2 611.4,2967.5 613.4,2965.8 C615.3,2964.0 617.2,2962.3 619.1,2960.5 C621.0,2958.8 622.9,2957.0 624.8,2955.2 C626.7,2953.4 628.5,2951.5 630.4,2949.7 C632.2,2947.9 634.0,2946.0 635.9,2944.1 C637.7,2942.3 639.5,2940.4 641.2,2938.5 C643.0,2936.6 644.8,2934.6 646.6,2932.7 C648.3,2930.8 650.0,2928.8 651.8,2926.9 C653.5,2924.9 655.2,2922.9 656.9,2920.9 C658.6,2919.0 660.3,2917.0 662.0,2915.0 C663.6,2913.0 665.3,2910.9 666.9,2908.9 C668.6,2906.9 670.2,2904.8 671.8,2902.8 C673.4,2900.7 675.0,2898.7 676.6,2896.6 C678.2,2894.5 679.8,2892.4 681.3,2890.3 C682.9,2888.2 684.4,2886.1 686.0,2884.0 C687.5,2881.9 689.0,2879.8 690.5,2877.6 C692.0,2875.5 693.5,2873.4 695.0,2871.2 C696.5,2869.1 698.0,2866.9 699.4,2864.7 C700.9,2862.6 702.3,2860.4 703.8,2858.2 C705.2,2856.0 706.6,2853.8 708.0,2851.6 C709.4,2849.4 710.8,2847.2 712.2,2845.0 C713.6,2842.8 715.0,2840.6 716.4,2838.4 C717.7,2836.1 719.1,2833.9 720.4,2831.7 C721.8,2829.4 723.1,2827.2 724.4,2824.9 C725.7,2822.7 727.0,2820.4 728.3,2818.2 C729.6,2815.9 730.9,2813.6 732.2,2811.4 C733.5,2809.1 734.7,2806.8 736.0,2804.5 C737.2,2802.3 738.5,2800.0 739.7,2797.7 C740.9,2795.4 742.1,2793.1 743.4,2790.8 C744.6,2788.5 745.8,2786.2 747.0,2783.9 C748.2,2781.6 749.3,2779.3 750.5,2777.0 C751.7,2774.6 752.8,2772.3 754.0,2770.0 C755.1,2767.7 756.3,2765.3 757.4,2763.0 C758.5,2760.7 759.7,2758.3 760.8,2756.0 C761.9,2753.7 763.0,2751.3 764.1,2749.0 C765.2,2746.6 766.3,2744.3 767.3,2741.9 C768.4,2739.5 769.5,2737.2 770.5,2734.8 C771.6,2732.5 772.7,2730.1 773.7,2727.7 C774.7,2725.3 775.8,2723.0 776.8,2720.6 C777.8,2718.2 778.8,2715.8 779.8,2713.4 C780.8,2711.0 781.8,2708.7 782.8,2706.3 C783.8,2703.9 784.8,2701.5 785.8,2699.1 C786.7,2696.7 787.7,2694.3 788.7,2691.9 C789.6,2689.5 790.6,2687.0 791.5,2684.6 C792.4,2682.2 793.4,2679.8 794.3,2677.4 C795.2,2675.0 796.1,2672.5 797.0,2670.1 C798.0,2667.7 798.9,2665.3 799.8,2662.8 C800.7,2660.4 801.5,2658.0 802.4,2655.5 C803.3,2653.1 804.2,2650.6 805.0,2648.2 C805.9,2645.7 806.8,2643.3 807.6,2640.9 C808.5,2638.4 809.3,2636.0 810.2,2633.5 C811.0,2631.0 811.8,2628.6 812.7,2626.1 C813.5,2623.7 814.3,2621.2 815.1,2618.7 C815.9,2616.3 816.7,2613.8 817.5,2611.3 C818.3,2608.9 819.1,2606.4 819.9,2603.9 C820.7,2601.5 821.5,2599.0 822.3,2596.5 C823.1,2594.0 823.8,2591.5 824.6,2589.1 C825.4,2586.6 826.1,2584.1 826.9,2581.6 C827.6,2579.1 828.4,2576.6 829.1,2574.1 C829.9,2571.7 830.6,2569.2 831.3,2566.7 C832.1,2564.2 832.8,2561.7 833.5,2559.2 C834.3,2556.7 835.0,2554.2 835.7,2551.7 C836.4,2549.2 837.1,2546.7 837.8,2544.2 C838.5,2541.7 839.2,2539.2 839.9,2536.7 C840.6,2534.1 841.3,2531.6 842.0,2529.1 C842.7,2526.6 843.4,2524.1 844.0,2521.6 C844.7,2519.1 845.4,2516.6 846.1,2514.1 C846.7,2511.5 847.4,2509.0 848.1,2506.5 C848.7,2504.0 849.4,2501.5 850.0,2499.0 C850.7,2496.4 851.3,2493.9 852.0,2491.4 C852.6,2488.9 853.3,2486.3 853.9,2483.8 C854.6,2481.3 855.2,2478.8 855.9,2476.3 C856.5,2473.7 857.1,2471.2 857.8,2468.7 C858.4,2466.2 859.1,2463.6 859.7,2461.1 C860.3,2458.6 861.0,2456.1 861.6,2453.5 C862.2,2451.0 862.9,2448.5 863.5,2446.0 C864.1,2443.4 864.8,2440.9 865.4,2438.4 C866.0,2435.9 866.7,2433.3 867.3,2430.8 C867.9,2428.3 868.6,2425.8 869.2,2423.2 C869.9,2420.7 870.5,2418.2 871.2,2415.7 C871.8,2413.2 872.4,2410.6 873.1,2408.1 C873.7,2405.6 874.4,2403.1 875.1,2400.6 C875.7,2398.1 876.4,2395.5 877.0,2393.0 C877.7,2390.5 878.4,2388.0 879.0,2385.5 C879.7,2383.0 880.4,2380.5 881.1,2378.0 C881.7,2375.5 882.4,2373.0 883.1,2370.4 C883.8,2367.9 884.5,2365.4 885.2,2362.9 C885.9,2360.4 886.6,2357.9 887.3,2355.4 C888.0,2353.0 888.8,2350.5 889.5,2348.0 C890.2,2345.5 891.0,2343.0 891.7,2340.5 C892.4,2338.0 893.2,2335.5 893.9,2333.1 C894.7,2330.6 895.5,2328.1 896.2,2325.6 C897.0,2323.1 897.8,2320.7 898.6,2318.2 C899.4,2315.7 900.2,2313.3 901.0,2310.8 C901.8,2308.3 902.6,2305.9 903.4,2303.4 C904.3,2301.0 905.5,2297.3 906.0,2296.1" fill="none" stroke="#a0a0a0" stroke-width="5" stroke-linejoin="round"/>
<path d="M165.1,3050.8 C166.3,3050.7 170.1,3050.3 172.5,3050.1 C175.0,3049.9 177.5,3049.7 180.0,3049.6 C182.4,3049.4 184.9,3049.2 187.4,3049.1 C189.9,3048.9 192.3,3048.7 194.8,3048.6 C197.3,3048.5 199.7,3048.3 202.2,3048.2 C204.7,3048.1 207.1,3048.0 209.6,3047.8 C212.1,3047.7 214.5,3047.6 217.0,3047.5 C219.5,3047.4 221.9,3047.3 224.4,3047.2 C226.8,3047.2 229.3,3047.1 231.8,3047.0 C234.2,3046.9 236.7,3046.9 239.1,3046.8 C241.6,3046.7 244.1,3046.7 246.5,3046.6 C249.0,3046.6 251.4,3046.5 253.9,3046.4 C256.3,3046.4 258.8,3046.4 261.2,3046.3 C263.7,3046.3 266.2,3046.2 268.6,3046.2 C271.1,3046.1 273.5,3046.1 276.0,3046.1 C278.4,3046.0 280.9,3046.0 283.3,3046.0 C285.8,3045.9 288.2,3045.9 290.7,3045.8 C293.1,3045.8 295.6,3045.8 298.0,3045.7 C300.5,3045.7 302.9,3045.7 305.4,3045.6 C307.8,3045.6 310.3,3045.5 312.8,3045.5 C315.2,3045.5 317.7,3045.4 320.1,3045.4 C322.6,3045.3 325.0,3045.3 327.5,3045.2 C329.9,3045.1 332.4,3045.1 334.8,3045.0 C337.3,3045.0 339.7,3044.9 342.2,3044.8 C344.7,3044.8 347.1,3044.7 349.6,3044.6 C352.0,3044.5 354.5,3044.4 356.9,3044.3 C359.4,3044.2 361.9,3044.1 364.3,3044.0 C366.8,3043.9 369.2,3043.8 371.7,3043.7 C374.2,3043.6 376.6,3043.4 379.1,3043.3 C381.5,3043.2 384.0,3043.0 386.5,3042.9 C388.9,3042.7 391.4,3042.5 393.9,3042.4 C396.3,3042.2 398.8,3042.0 401.3,3041.8 C403.7,3041.6 406.2,3041.4 408.7,3041.2 C411.2,3041.0 413.6,3040.8 416.1,3040.5 C418.6,3040.3 421.1,3040.1 423.5,3039.8 C426.0,3039.5 428.5,3039.3 431.0,3039.0 C433.5,3038.7 435.9,3038.4 438.4,3038.1 C440.9,3037.8 443.4,3037.4 445.9,3037.1 C448.4,3036.8 450.9,3036.4 453.3,3036.0 C455.8,3035.7 458.3,3035.3 460.8,3034.9 C463.3,3034.5 465.8,3034.1 468.3,3033.6 C470.7,3033.2 473.2,3032.7 475.7,3032.3 C478.2,3031.8 480.6,3031.3 483.1,3030.8 C485.5,3030.3 488.0,3029.7 490.5,3029.2 C492.9,3028.6 495.4,3028.1 497.8,3027.5 C500.2,3026.9 502.7,3026.3 505.1,3025.6 C507.5,3025.0 509.9,3024.3 512.3,3023.6 C514.7,3023.0 517.1,3022.2 519.5,3021.5 C521.9,3020.8 524.2,3020.0 526.6,3019.2 C529.0,3018.5 531.3,3017.6 533.6,3016.8 C536.0,3016.0 538.3,3015.1 540.6,3014.2 C542.9,3013.3 545.2,3012.4 547.5,3011.5 C549.7,3010.5 552.0,3009.5 554.2,3008.5 C556.5,3007.5 558.7,3006.5 560.9,3005.4 C563.1,3004.3 565.3,3003.2 567.4,3002.1 C569.6,3001.0 571.7,2999.8 573.9,2998.6 C576.0,2997.4 578.1,2996.2 580.2,2994.9 C582.3,2993.7 584.3,2992.4 586.4,2991.1 C588.4,2989.7 590.4,2988.4 592.4,2987.0 C594.4,2985.6 596.4,2984.2 598.3,2982.7 C600.2,2981.3 602.2,2979.8 604.1,2978.3 C606.0,2976.8 607.8,2975.2 609.7,2973.7 C611.5,2972.1 613.3,2970.5 615.1,2968.9 C616.9,2967.2 618.7,2965.6 620.4,2963.9 C622.1,2962.2 623.9,2960.5 625.5,2958.8 C627.2,2957.0 628.9,2955.3 630.5,2953.5 C632.1,2951.7 633.7,2949.9 635.3,2948.0 C636.9,2946.2 638.4,2944.3 639.9,2942.4 C641.4,2940.5 642.9,2938.6 644.3,2936.6 C645.8,2934.7 647.2,2932.7 648.5,2930.7 C649.9,2928.8 651.3,2926.7 652.6,2924.7 C653.9,2922.7 655.2,2920.6 656.4,2918.5 C657.7,2916.4 658.9,2914.3 660.1,2912.2 C661.3,2910.1 662.4,2907.9 663.6,2905.8 C664.7,2903.6 665.8,2901.4 666.9,2899.2 C668.0,2897.0 669.0,2894.8 670.1,2892.6 C671.1,2890.3 672.1,2888.1 673.1,2885.8 C674.1,2883.6 675.0,2881.3 676.0,2879.0 C676.9,2876.7 677.8,2874.4 678.7,2872.1 C679.6,2869.8 680.5,2867.5 681.4,2865.1 C682.2,2862.8 683.1,2860.5 683.9,2858.1 C684.8,2855.8 685.6,2853.4 686.4,2851.0 C687.2,2848.7 688.0,2846.3 688.7,2843.9 C689.5,2841.5 690.3,2839.1 691.0,2836.7 C691.8,2834.4 692.5,2832.0 693.2,2829.6 C694.0,2827.2 694.7,2824.8 695.4,2822.4 C696.1,2820.0 696.8,2817.6 697.5,2815.2 C698.2,2812.8 698.9,2810.4 699.6,2807.9 C700.3,2805.5 701.0,2803.1 701.7,2800.7 C702.4,2798.3 703.0,2795.9 703.7,2793.5 C704.4,2791.1 705.1,2788.7 705.7,2786.3 C706.4,2783.9 707.0,2781.5 707.7,2779.1 C708.3,2776.7 709.0,2774.3 709.6,2772.0 C710.3,2769.6 710.9,2767.2 711.5,2764.8 C712.2,2762.4 712.8,2760.0 713.4,2757.6 C714.1,2755.2 714.7,2752.8 715.3,2750.4 C715.9,2748.0 716.5,2745.6 717.1,2743.2 C717.7,2740.8 718.4,2738.4 719.0,2736.0 C719.6,2733.6 720.2,2731.2 720.8,2728.8 C721.3,2726.4 721.9,2724.0 722.5,2721.6 C723.1,2719.2 723.7,2716.8 724.3,2714.4 C724.9,2712.0 725.4,2709.6 726.0,2707.2 C726.6,2704.8 727.2,2702.4 727.7,2700.0 C728.3,2697.6 728.9,2695.3 729.4,2692.9 C730.0,2690.5 730.6,2688.1 731.1,2685.7 C731.7,2683.3 732.2,2680.9 732.8,2678.5 C733.3,2676.1 733.9,2673.7 734.4,2671.3 C735.0,2668.9 735.5,2666.5 736.1,2664.1 C736.6,2661.7 737.2,2659.3 737.7,2656.9 C738.3,2654.5 738.8,2652.1 739.3,2649.7 C739.9,2647.3 740.4,2644.9 740.9,2642.5 C741.5,2640.1 742.0,2637.7 742.5,2635.3 C743.1,2632.9 743.6,2630.5 744.1,2628.1 C744.6,2625.7 745.2,2623.3 745.7,2620.9 C746.2,2618.5 746.7,2616.1 747.3,2613.7 C747.8,2611.3 748.3,2608.9 748.8,2606.5 C749.3,2604.1 749.9,2601.7 750.4,2599.3 C750.9,2596.9 751.4,2594.5 751.9,2592.1 C752.5,2589.7 753.0,2587.3 753.5,2584.8 C754.0,2582.4 754.5,2580.0 755.1,2577.6 C755.6,2575.2 756.1,2572.8 756.6,2570.4 C757.1,2568.0 757.6,2565.6 758.2,2563.2 C758.7,2560.8 759.2,2558.4 759.7,2555.9 C760.2,2553.5 760.7,2551.1 761.3,2548.7 C761.8,2546.3 762.3,2543.9 762.8,2541.5 C763.3,2539.1 763.8,2536.6 764.4,2534.2 C764.9,2531.8 765.4,2529.4 765.9,2527.0 C766.5,2524.6 767.0,2522.2 767.5,2519.7 C768.0,2517.3 768.6,2514.9 769.1,2512.5 C769.6,2510.1 770.1,2507.7 770.7,2505.2 C771.2,2502.8 771.8,2500.4 772.3,2498.0 C772.8,2495.6 773.4,2493.2 773.9,2490.7 C774.5,2488.3 775.0,2485.9 775.6,2483.5 C776.1,2481.1 776.7,2478.7 777.3,2476.3 C777.8,2473.9 778.4,2471.4 779.0,2469.0 C779.5,2466.6 780.1,2464.2 780.7,2461.8 C781.3,2459.4 781.9,2457.0 782.5,2454.6 C783.1,2452.2 783.7,2449.8 784.3,2447.4 C784.9,2445.0 785.5,2442.6 786.1,2440.2 C786.7,2437.8 787.4,2435.4 788.0,2433.0 C788.6,2430.7 789.3,2428.3 789.9,2425.9 C790.6,2423.5 791.3,2421.1 791.9,2418.7 C792.6,2416.4 793.3,2414.0 794.0,2411.6 C794.6,2409.3 795.3,2406.9 796.0,2404.5 C796.7,2402.2 797.5,2399.8 798.2,2397.4 C798.9,2395.1 799.6,2392.7 800.4,2390.4 C801.1,2388.0 801.9,2385.7 802.6,2383.3 C803.4,2381.0 804.2,2378.7 805.0,2376.3 C805.7,2374.0 806.5,2371.7 807.4,2369.3 C808.2,2367.0 809.0,2364.7 809.8,2362.4 C810.7,2360.1 811.5,2357.8 812.4,2355.4 C813.2,2353.1 814.1,2350.8 815.0,2348.5 C815.9,2346.2 816.7,2344.0 817.7,2341.7 C818.6,2339.4 819.5,2337.1 820.4,2334.8 C821.4,2332.6 822.3,2330.3 823.3,2328.0 C824.3,2325.8 825.2,2323.5 826.2,2321.3 C827.2,2319.0 828.2,2316.8 829.3,2314.5 C830.3,2312.3 831.3,2310.1 832.4,2307.8 C833.5,2305.6 835.1,2302.3 835.6,2301.2" fill="none" stroke="#ff0000" stroke-width="5.2" stroke-linejoin="round"/>
<path d="M133.3,3053.5 C134.5,3053.4 138.2,3053.0 140.6,3052.7 C143.0,3052.5 145.5,3052.3 148.0,3052.1 C150.4,3051.9 152.9,3051.7 155.4,3051.6 C157.8,3051.4 160.3,3051.3 162.8,3051.2 C165.3,3051.1 167.8,3051.0 170.3,3050.9 C172.8,3050.8 175.3,3050.7 177.8,3050.7 C180.3,3050.7 182.8,3050.6 185.4,3050.6 C187.9,3050.6 190.4,3050.6 192.9,3050.6 C195.5,3050.6 198.0,3050.7 200.6,3050.7 C203.1,3050.7 205.7,3050.8 208.2,3050.8 C210.8,3050.9 213.3,3051.0 215.9,3051.1 C218.4,3051.1 221.0,3051.2 223.6,3051.3 C226.1,3051.4 228.7,3051.5 231.3,3051.6 C233.8,3051.7 236.4,3051.9 239.0,3052.0 C241.6,3052.1 244.2,3052.2 246.7,3052.3 C249.3,3052.5 251.9,3052.6 254.5,3052.7 C257.1,3052.9 259.7,3053.0 262.3,3053.1 C264.9,3053.3 267.4,3053.4 270.0,3053.5 C272.6,3053.6 275.2,3053.8 277.8,3053.9 C280.4,3054.0 283.0,3054.2 285.6,3054.3 C288.2,3054.4 290.8,3054.5 293.4,3054.6 C296.0,3054.7 298.6,3054.8 301.2,3054.9 C303.8,3055.0 306.4,3055.1 309.0,3055.2 C311.6,3055.3 314.2,3055.3 316.8,3055.4 C319.4,3055.5 322.0,3055.5 324.5,3055.6 C327.1,3055.6 329.7,3055.6 332.3,3055.6 C334.9,3055.7 337.5,3055.7 340.1,3055.6 C342.7,3055.6 345.2,3055.6 347.8,3055.6 C350.4,3055.5 353.0,3055.5 355.5,3055.4 C358.1,3055.3 360.7,3055.2 363.3,3055.1 C365.8,3055.0 368.4,3054.9 371.0,3054.7 C373.5,3054.6 376.1,3054.4 378.6,3054.2 C381.2,3054.0 383.7,3053.8 386.3,3053.5 C388.8,3053.3 391.3,3053.0 393.9,3052.8 C396.4,3052.5 398.9,3052.2 401.5,3051.8 C404.0,3051.5 406.5,3051.1 409.0,3050.7 C411.5,3050.3 414.1,3049.9 416.6,3049.5 C419.1,3049.0 421.6,3048.5 424.0,3048.0 C426.5,3047.5 429.0,3047.0 431.5,3046.4 C434.0,3045.9 436.4,3045.3 438.9,3044.6 C441.4,3044.0 443.8,3043.3 446.3,3042.6 C448.7,3041.9 451.2,3041.2 453.6,3040.4 C456.0,3039.6 458.5,3038.8 460.9,3038.0 C463.3,3037.2 465.7,3036.3 468.1,3035.4 C470.5,3034.5 472.8,3033.6 475.2,3032.6 C477.6,3031.7 479.9,3030.7 482.3,3029.7 C484.6,3028.6 486.9,3027.6 489.3,3026.5 C491.6,3025.4 493.9,3024.3 496.2,3023.2 C498.5,3022.0 500.7,3020.9 503.0,3019.7 C505.2,3018.5 507.5,3017.3 509.7,3016.0 C511.9,3014.7 514.1,3013.5 516.3,3012.2 C518.5,3010.8 520.7,3009.5 522.8,3008.1 C525.0,3006.8 527.1,3005.4 529.2,3004.0 C531.3,3002.6 533.4,3001.1 535.4,2999.6 C537.5,2998.2 539.6,2996.7 541.6,2995.1 C543.6,2993.6 545.6,2992.1 547.6,2990.5 C549.6,2988.9 551.5,2987.3 553.4,2985.7 C555.4,2984.1 557.3,2982.4 559.1,2980.8 C561.0,2979.1 562.9,2977.4 564.7,2975.7 C566.5,2974.0 568.3,2972.3 570.1,2970.5 C571.9,2968.7 573.7,2966.9 575.4,2965.1 C577.1,2963.3 578.9,2961.5 580.6,2959.7 C582.2,2957.8 583.9,2956.0 585.6,2954.1 C587.2,2952.2 588.9,2950.3 590.5,2948.4 C592.1,2946.5 593.7,2944.5 595.2,2942.6 C596.8,2940.6 598.4,2938.6 599.9,2936.6 C601.4,2934.6 602.9,2932.6 604.4,2930.6 C605.9,2928.6 607.4,2926.5 608.9,2924.5 C610.4,2922.4 611.8,2920.4 613.2,2918.3 C614.7,2916.2 616.1,2914.1 617.5,2912.0 C618.9,2909.9 620.3,2907.7 621.7,2905.6 C623.0,2903.4 624.4,2901.3 625.7,2899.1 C627.1,2897.0 628.4,2894.8 629.7,2892.6 C631.1,2890.4 632.4,2888.2 633.7,2886.0 C635.0,2883.8 636.2,2881.6 637.5,2879.4 C638.8,2877.1 640.0,2874.9 641.3,2872.6 C642.5,2870.4 643.8,2868.1 645.0,2865.9 C646.3,2863.6 647.5,2861.4 648.7,2859.1 C649.9,2856.8 651.1,2854.5 652.3,2852.2 C653.5,2849.9 654.7,2847.6 655.9,2845.3 C657.1,2843.0 658.3,2840.7 659.4,2838.4 C660.6,2836.1 661.8,2833.8 662.9,2831.5 C664.1,2829.2 665.3,2826.9 666.4,2824.5 C667.6,2822.2 668.7,2819.9 669.9,2817.6 C671.0,2815.2 672.1,2812.9 673.3,2810.6 C674.4,2808.2 675.6,2805.9 676.7,2803.6 C677.8,2801.3 679.0,2798.9 680.1,2796.6 C681.2,2794.3 682.4,2791.9 683.5,2789.6 C684.6,2787.3 685.8,2784.9 686.9,2782.6 C688.0,2780.3 689.1,2778.0 690.3,2775.7 C691.4,2773.3 692.6,2771.0 693.7,2768.7 C694.8,2766.4 696.0,2764.1 697.1,2761.8 C698.2,2759.5 699.4,2757.2 700.5,2754.9 C701.7,2752.6 702.8,2750.3 703.9,2748.0 C705.1,2745.7 706.2,2743.4 707.4,2741.1 C708.5,2738.8 709.6,2736.5 710.8,2734.2 C711.9,2731.9 713.1,2729.7 714.2,2727.4 C715.4,2725.1 716.5,2722.8 717.7,2720.5 C718.8,2718.2 719.9,2716.0 721.1,2713.7 C722.2,2711.4 723.4,2709.1 724.5,2706.9 C725.7,2704.6 726.8,2702.3 727.9,2700.0 C729.1,2697.8 730.2,2695.5 731.4,2693.2 C732.5,2690.9 733.6,2688.7 734.8,2686.4 C735.9,2684.1 737.1,2681.9 738.2,2679.6 C739.3,2677.3 740.5,2675.1 741.6,2672.8 C742.7,2670.5 743.9,2668.3 745.0,2666.0 C746.1,2663.7 747.3,2661.5 748.4,2659.2 C749.5,2656.9 750.7,2654.6 751.8,2652.4 C752.9,2650.1 754.0,2647.8 755.1,2645.6 C756.3,2643.3 757.4,2641.0 758.5,2638.8 C759.6,2636.5 760.7,2634.2 761.9,2631.9 C763.0,2629.7 764.1,2627.4 765.2,2625.1 C766.3,2622.9 767.4,2620.6 768.5,2618.3 C769.6,2616.0 770.7,2613.7 771.8,2611.5 C772.9,2609.2 774.0,2606.9 775.1,2604.6 C776.2,2602.3 777.3,2600.1 778.4,2597.8 C779.4,2595.5 780.5,2593.2 781.6,2590.9 C782.7,2588.6 783.8,2586.3 784.8,2584.0 C785.9,2581.7 787.0,2579.4 788.1,2577.1 C789.1,2574.8 790.2,2572.5 791.2,2570.2 C792.3,2567.9 793.4,2565.6 794.4,2563.3 C795.5,2561.0 796.5,2558.7 797.5,2556.4 C798.6,2554.1 799.6,2551.7 800.7,2549.4 C801.7,2547.1 802.7,2544.8 803.7,2542.4 C804.8,2540.1 805.8,2537.8 806.8,2535.5 C807.8,2533.1 808.8,2530.8 809.8,2528.4 C810.9,2526.1 811.9,2523.7 812.9,2521.4 C813.9,2519.0 814.8,2516.7 815.8,2514.3 C816.8,2512.0 817.8,2509.6 818.8,2507.3 C819.8,2504.9 820.7,2502.5 821.7,2500.2 C822.7,2497.8 823.6,2495.4 824.6,2493.0 C825.6,2490.7 826.5,2488.3 827.5,2485.9 C828.4,2483.5 829.4,2481.1 830.3,2478.7 C831.3,2476.4 832.2,2474.0 833.2,2471.6 C834.1,2469.2 835.0,2466.8 836.0,2464.4 C836.9,2462.0 837.8,2459.6 838.8,2457.2 C839.7,2454.8 840.6,2452.4 841.5,2450.0 C842.4,2447.6 843.4,2445.2 844.3,2442.8 C845.2,2440.4 846.1,2438.0 847.0,2435.6 C847.9,2433.2 848.8,2430.8 849.7,2428.4 C850.6,2426.0 851.5,2423.6 852.4,2421.2 C853.3,2418.8 854.2,2416.4 855.1,2413.9 C856.0,2411.5 856.9,2409.1 857.8,2406.7 C858.7,2404.3 859.6,2401.9 860.5,2399.5 C861.4,2397.1 862.3,2394.7 863.2,2392.3 C864.0,2389.9 864.9,2387.5 865.8,2385.1 C866.7,2382.7 867.6,2380.3 868.5,2377.8 C869.3,2375.4 870.2,2373.0 871.1,2370.6 C872.0,2368.2 872.9,2365.8 873.7,2363.4 C874.6,2361.0 875.5,2358.6 876.4,2356.2 C877.2,2353.9 878.1,2351.5 879.0,2349.1 C879.9,2346.7 880.7,2344.3 881.6,2341.9 C882.5,2339.5 883.4,2337.1 884.3,2334.7 C885.1,2332.4 886.0,2330.0 886.9,2327.6 C887.8,2325.2 888.6,2322.8 889.5,2320.5 C890.4,2318.1 891.3,2315.7 892.1,2313.4 C893.0,2311.0 893.9,2308.6 894.8,2306.3 C895.7,2303.9 896.5,2301.6 897.4,2299.2 C898.3,2296.9 899.6,2293.3 900.1,2292.2" fill="none" stroke="#00ccff" stroke-width="5" stroke-linejoin="round"/>
</g>
<rect x="182.2" y="2284.2" width="399.8" height="293.8000000000002" fill="#fff" stroke="#cdcdcd" stroke-width="2"/>
<use href="#gB" x="228.3" y="2309.8"/>
<text x="278.6" y="2322" font-family="Liberation Serif, serif" font-size="37">T-1</text>
<use href="#rB" x="228.3" y="2355.2"/>
<text x="278.6" y="2367.8" font-family="Liberation Serif, serif" font-size="37">T-2</text>
<use href="#bB" x="228.3" y="2400.8"/>
<text x="278.6" y="2413.3" font-family="Liberation Serif, serif" font-size="37">T-3</text>
<line x1="185.1" y1="2451.7" x2="271.7" y2="2451.7" stroke="#a0a0a0" stroke-width="4.8"/>
<text x="278.6" y="2463.7" font-family="Liberation Serif, serif" font-size="37">Fitting-1 R<tspan font-size="25.5" dy="-15.5">2</tspan><tspan dy="15.5">=0.9995</tspan></text>
<line x1="185.1" y1="2502.3" x2="271.7" y2="2502.3" stroke="#ff0000" stroke-width="4.8"/>
<text x="278.6" y="2514.3" font-family="Liberation Serif, serif" font-size="37">Fitting-2 R<tspan font-size="25.5" dy="-15.5">2</tspan><tspan dy="15.5">=0.9959</tspan></text>
<line x1="185.1" y1="2552.6" x2="271.7" y2="2552.6" stroke="#00ccff" stroke-width="4.8"/>
<text x="278.6" y="2564.7" font-family="Liberation Serif, serif" font-size="37">Fitting-3 R<tspan font-size="25.5" dy="-15.5">2</tspan><tspan dy="15.5">=0.9990</tspan></text>
<text transform="translate(548.89,3291.59) scale(0.7977,0.8644)" font-family="Liberation Serif, serif" font-size="100">(</text>
<text transform="translate(577.23,3292.12) scale(0.8156,0.8688)" font-family="Liberation Serif, serif" font-size="100" font-weight="bold">c</text>
<text transform="translate(613.47,3291.59) scale(0.7899,0.8644)" font-family="Liberation Serif, serif" font-size="100">)</text>
</svg>
</body></html>
